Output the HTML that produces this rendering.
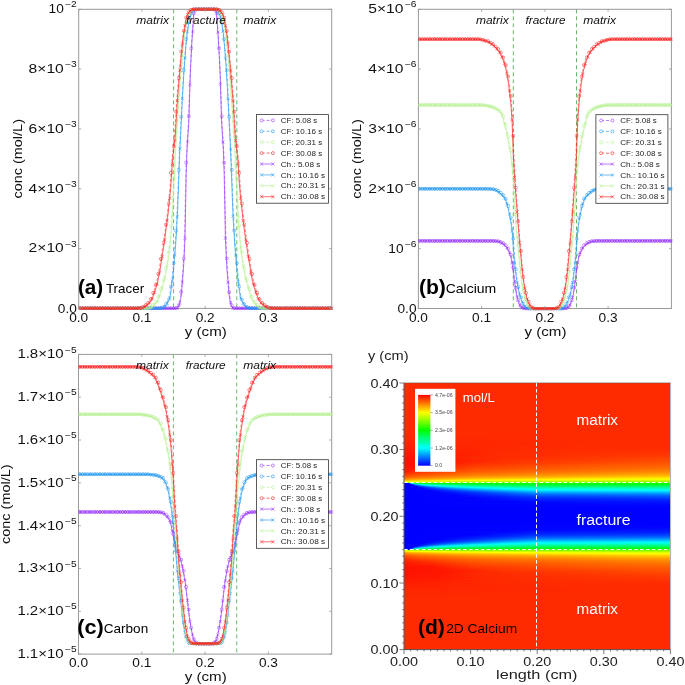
<!DOCTYPE html><html><head><meta charset="utf-8"><title>Figure</title><style>html,body{margin:0;padding:0;background:#fff}svg{display:block;will-change:transform}text{font-family:"Liberation Sans",sans-serif}</style></head><body><svg width="685" height="685" viewBox="0 0 685 685" font-family="Liberation Sans, sans-serif"><defs><linearGradient id="h49"><stop offset="0" stop-color="#ff2a00"/><stop offset="1" stop-color="#ff2b00"/></linearGradient><linearGradient id="h50"><stop offset="0" stop-color="#ff2a00"/><stop offset="1" stop-color="#ff2b00"/></linearGradient><linearGradient id="h51"><stop offset="0" stop-color="#ff2a00"/><stop offset="1" stop-color="#ff2b00"/></linearGradient><linearGradient id="h52"><stop offset="0" stop-color="#ff2a00"/><stop offset="1" stop-color="#ff2b00"/></linearGradient><linearGradient id="h53"><stop offset="0" stop-color="#ff2900"/><stop offset="1" stop-color="#ff2b00"/></linearGradient><linearGradient id="h54"><stop offset="0" stop-color="#ff2900"/><stop offset="1" stop-color="#ff2b00"/></linearGradient><linearGradient id="h55"><stop offset="0" stop-color="#ff2800"/><stop offset="1" stop-color="#ff2b00"/></linearGradient><linearGradient id="h56"><stop offset="0" stop-color="#ff2800"/><stop offset="1" stop-color="#ff2b00"/></linearGradient><linearGradient id="h57"><stop offset="0" stop-color="#ff2700"/><stop offset="1" stop-color="#ff2b00"/></linearGradient><linearGradient id="h58"><stop offset="0" stop-color="#ff2600"/><stop offset="1" stop-color="#ff2b00"/></linearGradient><linearGradient id="h59"><stop offset="0" stop-color="#ff2500"/><stop offset="1" stop-color="#ff2b00"/></linearGradient><linearGradient id="h60"><stop offset="0" stop-color="#ff2400"/><stop offset="1" stop-color="#ff2b00"/></linearGradient><linearGradient id="h61"><stop offset="0" stop-color="#ff2300"/><stop offset=".824" stop-color="#ff2b00"/><stop offset="1" stop-color="#ff2b00"/></linearGradient><linearGradient id="h62"><stop offset="0" stop-color="#f20"/><stop offset=".674" stop-color="#ff2b00"/><stop offset="1" stop-color="#ff2b00"/></linearGradient><linearGradient id="h63"><stop offset="0" stop-color="#ff2100"/><stop offset=".5" stop-color="#ff2b00"/><stop offset="1" stop-color="#ff2b00"/></linearGradient><linearGradient id="h64"><stop offset="0" stop-color="#ff2000"/><stop offset=".5" stop-color="#ff2b00"/><stop offset="1" stop-color="#ff2c00"/></linearGradient><linearGradient id="h65"><stop offset="0" stop-color="#ff1f00"/><stop offset=".5" stop-color="#ff2b00"/><stop offset="1" stop-color="#ff2c00"/></linearGradient><linearGradient id="h66"><stop offset="0" stop-color="#ff1d00"/><stop offset=".5" stop-color="#ff2b00"/><stop offset="1" stop-color="#ff2d00"/></linearGradient><linearGradient id="h67"><stop offset="0" stop-color="#ff1c00"/><stop offset=".375" stop-color="#ff2b00"/><stop offset="1" stop-color="#ff2f00"/></linearGradient><linearGradient id="h68"><stop offset="0" stop-color="#ff1b00"/><stop offset=".135" stop-color="#ff1e00"/><stop offset=".375" stop-color="#ff2b00"/><stop offset="1" stop-color="#ff3100"/></linearGradient><linearGradient id="h69"><stop offset="0" stop-color="#ff1900"/><stop offset=".135" stop-color="#ff1d00"/><stop offset=".375" stop-color="#ff2b00"/><stop offset="1" stop-color="#f30"/></linearGradient><linearGradient id="h70"><stop offset="0" stop-color="#ff1800"/><stop offset=".135" stop-color="#ff1c00"/><stop offset=".375" stop-color="#ff2b00"/><stop offset="1" stop-color="#ff3500"/></linearGradient><linearGradient id="h71"><stop offset="0" stop-color="#ff1700"/><stop offset=".135" stop-color="#ff1b00"/><stop offset=".375" stop-color="#ff2b00"/><stop offset="1" stop-color="#ff3700"/></linearGradient><linearGradient id="h72"><stop offset="0" stop-color="#ff1600"/><stop offset=".135" stop-color="#ff1a00"/><stop offset=".375" stop-color="#ff2b00"/><stop offset="1" stop-color="#ff3a00"/></linearGradient><linearGradient id="h73"><stop offset="0" stop-color="#ff1500"/><stop offset=".135" stop-color="#ff1900"/><stop offset=".262" stop-color="#ff2800"/><stop offset="1" stop-color="#ff3d00"/></linearGradient><linearGradient id="h74"><stop offset="0" stop-color="#ff1400"/><stop offset=".135" stop-color="#ff1800"/><stop offset=".262" stop-color="#ff2800"/><stop offset="1" stop-color="#ff4100"/></linearGradient><linearGradient id="h75"><stop offset="0" stop-color="#ff1300"/><stop offset=".135" stop-color="#ff1800"/><stop offset=".262" stop-color="#ff2800"/><stop offset="1" stop-color="#f40"/></linearGradient><linearGradient id="h76"><stop offset="0" stop-color="#ff1300"/><stop offset=".135" stop-color="#ff1700"/><stop offset=".375" stop-color="#ff2e00"/><stop offset="1" stop-color="#ff4800"/></linearGradient><linearGradient id="h77"><stop offset="0" stop-color="#ff1200"/><stop offset=".135" stop-color="#ff1700"/><stop offset=".375" stop-color="#ff3000"/><stop offset="1" stop-color="#ff4b00"/></linearGradient><linearGradient id="h78"><stop offset="0" stop-color="#ff1200"/><stop offset=".135" stop-color="#ff1700"/><stop offset=".375" stop-color="#f30"/><stop offset="1" stop-color="#ff4f00"/></linearGradient><linearGradient id="h79"><stop offset="0" stop-color="#ff1200"/><stop offset=".135" stop-color="#ff1700"/><stop offset=".375" stop-color="#ff3600"/><stop offset="1" stop-color="#ff5300"/></linearGradient><linearGradient id="h80"><stop offset="0" stop-color="#ff1200"/><stop offset=".135" stop-color="#ff1700"/><stop offset=".262" stop-color="#ff2f00"/><stop offset=".824" stop-color="#ff5100"/><stop offset="1" stop-color="#ff5700"/></linearGradient><linearGradient id="h81"><stop offset="0" stop-color="#ff1300"/><stop offset=".097" stop-color="#ff1300"/><stop offset=".262" stop-color="#f30"/><stop offset=".674" stop-color="#ff5000"/><stop offset="1" stop-color="#ff5c00"/></linearGradient><linearGradient id="h82"><stop offset="0" stop-color="#ff1400"/><stop offset=".097" stop-color="#ff1500"/><stop offset=".262" stop-color="#ff3700"/><stop offset=".674" stop-color="#ff5400"/><stop offset="1" stop-color="#ff6000"/></linearGradient><linearGradient id="h83"><stop offset="0" stop-color="#ff1400"/><stop offset=".097" stop-color="#ff1800"/><stop offset=".262" stop-color="#ff3c00"/><stop offset=".5" stop-color="#ff5100"/><stop offset="1" stop-color="#ff6400"/></linearGradient><linearGradient id="h84"><stop offset="0" stop-color="#ff1500"/><stop offset=".097" stop-color="#ff1d00"/><stop offset=".262" stop-color="#ff4200"/><stop offset=".674" stop-color="#ff5e00"/><stop offset="1" stop-color="#ff6a00"/></linearGradient><linearGradient id="h85"><stop offset="0" stop-color="#ff1600"/><stop offset=".097" stop-color="#ff2300"/><stop offset=".262" stop-color="#ff4800"/><stop offset=".674" stop-color="#ff6300"/><stop offset="1" stop-color="#ff7000"/></linearGradient><linearGradient id="h86"><stop offset="0" stop-color="#ff1800"/><stop offset=".262" stop-color="#ff4e00"/><stop offset=".824" stop-color="#ff7000"/><stop offset="1" stop-color="#f70"/></linearGradient><linearGradient id="h87"><stop offset="0" stop-color="#ff1900"/><stop offset=".262" stop-color="#f50"/><stop offset="1" stop-color="#ff7f00"/></linearGradient><linearGradient id="h88"><stop offset="0" stop-color="#ff1d00"/><stop offset=".187" stop-color="#ff4f00"/><stop offset=".375" stop-color="#f60"/><stop offset="1" stop-color="#f80"/></linearGradient><linearGradient id="h89"><stop offset="0" stop-color="#ff2400"/><stop offset=".067" stop-color="#ff3c00"/><stop offset=".262" stop-color="#ff6300"/><stop offset=".824" stop-color="#ff8900"/><stop offset="1" stop-color="#ff9100"/></linearGradient><linearGradient id="h90"><stop offset="0" stop-color="#ff2d00"/><stop offset=".045" stop-color="#ff4100"/><stop offset=".262" stop-color="#ff6c00"/><stop offset=".824" stop-color="#ff9400"/><stop offset="1" stop-color="#ff9c00"/></linearGradient><linearGradient id="h91"><stop offset="0" stop-color="#ff3800"/><stop offset=".045" stop-color="#ff4c00"/><stop offset=".262" stop-color="#f70"/><stop offset=".824" stop-color="#ffa000"/><stop offset="1" stop-color="#ffa800"/></linearGradient><linearGradient id="h92"><stop offset="0" stop-color="#f40"/><stop offset=".045" stop-color="#ff5700"/><stop offset=".262" stop-color="#ff8400"/><stop offset=".824" stop-color="#ffae00"/><stop offset="1" stop-color="#ffb800"/></linearGradient><linearGradient id="h93"><stop offset="0" stop-color="#ff5100"/><stop offset=".067" stop-color="#ff6b00"/><stop offset=".262" stop-color="#ff9300"/><stop offset=".824" stop-color="#ffc100"/><stop offset="1" stop-color="#ffca00"/></linearGradient><linearGradient id="h94"><stop offset="0" stop-color="#ff6000"/><stop offset=".045" stop-color="#f70"/><stop offset=".262" stop-color="#ffa600"/><stop offset=".674" stop-color="#ffcd00"/><stop offset="1" stop-color="#ffdf00"/></linearGradient><linearGradient id="h95"><stop offset="0" stop-color="#ff7400"/><stop offset=".03" stop-color="#ff8900"/><stop offset=".262" stop-color="#ffbf00"/><stop offset=".674" stop-color="#ffe600"/><stop offset="1" stop-color="#fff600"/></linearGradient><linearGradient id="h96"><stop offset="0" stop-color="#ff9000"/><stop offset=".045" stop-color="#ffac00"/><stop offset=".262" stop-color="#ffdf00"/><stop offset=".5" stop-color="#fff700"/><stop offset=".824" stop-color="#f4ff00"/><stop offset="1" stop-color="#ecff00"/></linearGradient><linearGradient id="h97"><stop offset="0" stop-color="#ffb900"/><stop offset=".019" stop-color="#fc0"/><stop offset=".135" stop-color="#fff000"/><stop offset=".262" stop-color="#f8ff00"/><stop offset=".824" stop-color="#d1ff00"/><stop offset="1" stop-color="#caff00"/></linearGradient><linearGradient id="h98"><stop offset="0" stop-color="#fff800"/><stop offset=".019" stop-color="#f6ff00"/><stop offset=".187" stop-color="#ceff00"/><stop offset=".5" stop-color="#b2ff00"/><stop offset="1" stop-color="#9dff00"/></linearGradient><linearGradient id="h99"><stop offset="0" stop-color="#9bff00"/><stop offset=".045" stop-color="#87ff00"/><stop offset=".262" stop-color="#6cff00"/><stop offset="1" stop-color="#56ff00"/></linearGradient><linearGradient id="h100"><stop offset="0" stop-color="#00f"/><stop offset=".019" stop-color="#00f"/><stop offset=".03" stop-color="#00fff2"/><stop offset=".045" stop-color="#00ff63"/><stop offset=".067" stop-color="#00ff34"/><stop offset=".097" stop-color="#00ff1c"/><stop offset=".187" stop-color="#00ff02"/><stop offset=".5" stop-color="#13ff00"/><stop offset="1" stop-color="#15ff00"/></linearGradient><linearGradient id="h101"><stop offset="0" stop-color="#00f"/><stop offset=".019" stop-color="#00f"/><stop offset=".03" stop-color="#000eff"/><stop offset=".045" stop-color="#00bdff"/><stop offset=".067" stop-color="#00ffd7"/><stop offset=".097" stop-color="#00ff9b"/><stop offset=".135" stop-color="#00ff76"/><stop offset=".187" stop-color="#00ff58"/><stop offset=".262" stop-color="#00ff40"/><stop offset=".5" stop-color="#00ff1f"/><stop offset="1" stop-color="#00ff19"/></linearGradient><linearGradient id="h102"><stop offset="0" stop-color="#00f"/><stop offset=".03" stop-color="#00f"/><stop offset=".045" stop-color="#0034ff"/><stop offset=".067" stop-color="#00a3ff"/><stop offset=".097" stop-color="#00f4ff"/><stop offset=".135" stop-color="#00ffd3"/><stop offset=".187" stop-color="#00ffa7"/><stop offset=".262" stop-color="#00ff82"/><stop offset=".375" stop-color="#00ff63"/><stop offset=".5" stop-color="#00ff4e"/><stop offset="1" stop-color="#00ff45"/></linearGradient><linearGradient id="h103"><stop offset="0" stop-color="#00f"/><stop offset=".045" stop-color="#0007ff"/><stop offset=".097" stop-color="#0097ff"/><stop offset=".135" stop-color="#00d8ff"/><stop offset=".187" stop-color="#00ffef"/><stop offset=".262" stop-color="#00ffc0"/><stop offset=".375" stop-color="#00ff96"/><stop offset=".5" stop-color="#00ff7b"/><stop offset="1" stop-color="#00ff6f"/></linearGradient><linearGradient id="h104"><stop offset="0" stop-color="#00f"/><stop offset=".045" stop-color="#00f"/><stop offset=".067" stop-color="#0019ff"/><stop offset=".135" stop-color="#0091ff"/><stop offset=".187" stop-color="#00cfff"/><stop offset=".262" stop-color="#00fff9"/><stop offset=".375" stop-color="#00ffc7"/><stop offset=".5" stop-color="#00ffa5"/><stop offset="1" stop-color="#00ff97"/></linearGradient><linearGradient id="h105"><stop offset="0" stop-color="#00f"/><stop offset=".067" stop-color="#0005ff"/><stop offset=".187" stop-color="#0095ff"/><stop offset=".262" stop-color="#00d2ff"/><stop offset=".375" stop-color="#00fff6"/><stop offset=".5" stop-color="#00ffce"/><stop offset="1" stop-color="#00ffbe"/></linearGradient><linearGradient id="h106"><stop offset="0" stop-color="#00f"/><stop offset=".067" stop-color="#00f"/><stop offset=".097" stop-color="#01f"/><stop offset=".262" stop-color="#00a2ff"/><stop offset=".375" stop-color="#00deff"/><stop offset=".5" stop-color="#00fff5"/><stop offset="1" stop-color="#00ffe3"/></linearGradient><linearGradient id="h107"><stop offset="0" stop-color="#00f"/><stop offset=".097" stop-color="#0004ff"/><stop offset=".262" stop-color="#07f"/><stop offset=".375" stop-color="#00b7ff"/><stop offset=".5" stop-color="#00e5ff"/><stop offset="1" stop-color="#00f9ff"/></linearGradient><linearGradient id="h108"><stop offset="0" stop-color="#00f"/><stop offset=".097" stop-color="#00f"/><stop offset=".187" stop-color="#0028ff"/><stop offset=".375" stop-color="#0092ff"/><stop offset=".5" stop-color="#00c3ff"/><stop offset="1" stop-color="#00d8ff"/></linearGradient><linearGradient id="h109"><stop offset="0" stop-color="#00f"/><stop offset=".135" stop-color="#0003ff"/><stop offset=".5" stop-color="#00a3ff"/><stop offset="1" stop-color="#00baff"/></linearGradient><linearGradient id="h110"><stop offset="0" stop-color="#00f"/><stop offset=".135" stop-color="#00f"/><stop offset=".262" stop-color="#0027ff"/><stop offset=".5" stop-color="#0085ff"/><stop offset="1" stop-color="#009cff"/></linearGradient><linearGradient id="h111"><stop offset="0" stop-color="#00f"/><stop offset=".187" stop-color="#0005ff"/><stop offset=".5" stop-color="#006bff"/><stop offset="1" stop-color="#0081ff"/></linearGradient><linearGradient id="h112"><stop offset="0" stop-color="#00f"/><stop offset=".187" stop-color="#0001ff"/><stop offset=".5" stop-color="#0056ff"/><stop offset="1" stop-color="#0069ff"/></linearGradient><linearGradient id="h113"><stop offset="0" stop-color="#00f"/><stop offset=".187" stop-color="#00f"/><stop offset=".375" stop-color="#02f"/><stop offset=".5" stop-color="#0043ff"/><stop offset="1" stop-color="#0056ff"/></linearGradient><linearGradient id="h114"><stop offset="0" stop-color="#00f"/><stop offset=".262" stop-color="#0004ff"/><stop offset=".5" stop-color="#03f"/><stop offset="1" stop-color="#0045ff"/></linearGradient><linearGradient id="h115"><stop offset="0" stop-color="#00f"/><stop offset=".262" stop-color="#0001ff"/><stop offset=".5" stop-color="#0026ff"/><stop offset="1" stop-color="#0035ff"/></linearGradient><linearGradient id="h116"><stop offset="0" stop-color="#00f"/><stop offset=".262" stop-color="#00f"/><stop offset=".5" stop-color="#001dff"/><stop offset="1" stop-color="#0029ff"/></linearGradient><linearGradient id="h117"><stop offset="0" stop-color="#00f"/><stop offset=".375" stop-color="#0005ff"/><stop offset=".5" stop-color="#0016ff"/><stop offset="1" stop-color="#0020ff"/></linearGradient><linearGradient id="h118"><stop offset="0" stop-color="#00f"/><stop offset=".375" stop-color="#0002ff"/><stop offset=".5" stop-color="#0010ff"/><stop offset="1" stop-color="#0019ff"/></linearGradient><linearGradient id="h119"><stop offset="0" stop-color="#00f"/><stop offset=".375" stop-color="#0001ff"/><stop offset=".674" stop-color="#000dff"/><stop offset="1" stop-color="#0012ff"/></linearGradient><linearGradient id="h120"><stop offset="0" stop-color="#00f"/><stop offset="1" stop-color="#000dff"/></linearGradient><linearGradient id="h121"><stop offset="0" stop-color="#00f"/><stop offset="1" stop-color="#0008ff"/></linearGradient><linearGradient id="h122"><stop offset="0" stop-color="#00f"/><stop offset="1" stop-color="#0005ff"/></linearGradient><linearGradient id="h123"><stop offset="0" stop-color="#00f"/><stop offset="1" stop-color="#0002ff"/></linearGradient><linearGradient id="h124"><stop offset="0" stop-color="#00f"/><stop offset="1" stop-color="#0001ff"/></linearGradient><linearGradient id="h141"><stop offset="0" stop-color="#00f"/><stop offset="1" stop-color="#0001ff"/></linearGradient><linearGradient id="h142"><stop offset="0" stop-color="#00f"/><stop offset="1" stop-color="#0002ff"/></linearGradient><linearGradient id="h143"><stop offset="0" stop-color="#00f"/><stop offset="1" stop-color="#0003ff"/></linearGradient><linearGradient id="h144"><stop offset="0" stop-color="#00f"/><stop offset="1" stop-color="#0006ff"/></linearGradient><linearGradient id="h145"><stop offset="0" stop-color="#00f"/><stop offset="1" stop-color="#000aff"/></linearGradient><linearGradient id="h146"><stop offset="0" stop-color="#00f"/><stop offset=".375" stop-color="#00f"/><stop offset="1" stop-color="#000fff"/></linearGradient><linearGradient id="h147"><stop offset="0" stop-color="#00f"/><stop offset=".375" stop-color="#0001ff"/><stop offset=".5" stop-color="#000cff"/><stop offset="1" stop-color="#0015ff"/></linearGradient><linearGradient id="h148"><stop offset="0" stop-color="#00f"/><stop offset=".375" stop-color="#0003ff"/><stop offset=".5" stop-color="#0012ff"/><stop offset="1" stop-color="#001bff"/></linearGradient><linearGradient id="h149"><stop offset="0" stop-color="#00f"/><stop offset=".375" stop-color="#0007ff"/><stop offset=".5" stop-color="#0019ff"/><stop offset="1" stop-color="#0023ff"/></linearGradient><linearGradient id="h150"><stop offset="0" stop-color="#00f"/><stop offset=".262" stop-color="#00f"/><stop offset=".5" stop-color="#0021ff"/><stop offset="1" stop-color="#002dff"/></linearGradient><linearGradient id="h151"><stop offset="0" stop-color="#00f"/><stop offset=".262" stop-color="#0002ff"/><stop offset=".5" stop-color="#002bff"/><stop offset="1" stop-color="#003bff"/></linearGradient><linearGradient id="h152"><stop offset="0" stop-color="#00f"/><stop offset=".262" stop-color="#0005ff"/><stop offset=".5" stop-color="#0039ff"/><stop offset="1" stop-color="#004bff"/></linearGradient><linearGradient id="h153"><stop offset="0" stop-color="#00f"/><stop offset=".187" stop-color="#00f"/><stop offset=".375" stop-color="#0026ff"/><stop offset=".5" stop-color="#004aff"/><stop offset="1" stop-color="#005dff"/></linearGradient><linearGradient id="h154"><stop offset="0" stop-color="#00f"/><stop offset=".187" stop-color="#0002ff"/><stop offset=".5" stop-color="#005eff"/><stop offset="1" stop-color="#0072ff"/></linearGradient><linearGradient id="h155"><stop offset="0" stop-color="#00f"/><stop offset=".135" stop-color="#00f"/><stop offset=".262" stop-color="#001fff"/><stop offset=".5" stop-color="#0075ff"/><stop offset="1" stop-color="#008cff"/></linearGradient><linearGradient id="h156"><stop offset="0" stop-color="#00f"/><stop offset=".135" stop-color="#0001ff"/><stop offset=".5" stop-color="#0091ff"/><stop offset="1" stop-color="#00a8ff"/></linearGradient><linearGradient id="h157"><stop offset="0" stop-color="#00f"/><stop offset=".135" stop-color="#0006ff"/><stop offset=".375" stop-color="#007dff"/><stop offset=".5" stop-color="#00b0ff"/><stop offset="1" stop-color="#00c6ff"/></linearGradient><linearGradient id="h158"><stop offset="0" stop-color="#00f"/><stop offset=".097" stop-color="#0001ff"/><stop offset=".375" stop-color="#00a0ff"/><stop offset=".5" stop-color="#00d1ff"/><stop offset="1" stop-color="#00e5ff"/></linearGradient><linearGradient id="h159"><stop offset="0" stop-color="#00f"/><stop offset=".067" stop-color="#00f"/><stop offset=".097" stop-color="#0008ff"/><stop offset=".262" stop-color="#08f"/><stop offset=".375" stop-color="#00c6ff"/><stop offset=".5" stop-color="#00f3ff"/><stop offset="1" stop-color="#00fff8"/></linearGradient><linearGradient id="h160"><stop offset="0" stop-color="#00f"/><stop offset=".067" stop-color="#0001ff"/><stop offset=".135" stop-color="#0040ff"/><stop offset=".187" stop-color="#07f"/><stop offset=".262" stop-color="#00b5ff"/><stop offset=".375" stop-color="#0ef"/><stop offset=".5" stop-color="#00ffe6"/><stop offset="1" stop-color="#00ffd4"/></linearGradient><linearGradient id="h161"><stop offset="0" stop-color="#00f"/><stop offset=".045" stop-color="#00f"/><stop offset=".067" stop-color="#000bff"/><stop offset=".135" stop-color="#006cff"/><stop offset=".187" stop-color="#00acff"/><stop offset=".262" stop-color="#00e5ff"/><stop offset=".375" stop-color="#00ffe3"/><stop offset=".5" stop-color="#00ffbe"/><stop offset="1" stop-color="#00ffae"/></linearGradient><linearGradient id="h162"><stop offset="0" stop-color="#00f"/><stop offset=".045" stop-color="#00f"/><stop offset=".067" stop-color="#0026ff"/><stop offset=".097" stop-color="#0069ff"/><stop offset=".135" stop-color="#00adff"/><stop offset=".187" stop-color="#00e7ff"/><stop offset=".262" stop-color="#00ffe3"/><stop offset=".375" stop-color="#00ffb4"/><stop offset=".5" stop-color="#00ff94"/><stop offset="1" stop-color="#00ff87"/></linearGradient><linearGradient id="h163"><stop offset="0" stop-color="#00f"/><stop offset=".03" stop-color="#00f"/><stop offset=".045" stop-color="#0014ff"/><stop offset=".067" stop-color="#0064ff"/><stop offset=".097" stop-color="#0bf"/><stop offset=".135" stop-color="#00f8ff"/><stop offset=".187" stop-color="#00ffd3"/><stop offset=".262" stop-color="#00ffa7"/><stop offset=".375" stop-color="#00ff82"/><stop offset=".5" stop-color="#00ff69"/><stop offset="1" stop-color="#00ff5f"/></linearGradient><linearGradient id="h164"><stop offset="0" stop-color="#00f"/><stop offset=".03" stop-color="#00f"/><stop offset=".045" stop-color="#005dff"/><stop offset=".067" stop-color="#00d4ff"/><stop offset=".097" stop-color="#00ffe0"/><stop offset=".135" stop-color="#00ffaf"/><stop offset=".187" stop-color="#0f8"/><stop offset=".262" stop-color="#00ff68"/><stop offset=".375" stop-color="#00ff4d"/><stop offset=".5" stop-color="#00ff3b"/><stop offset="1" stop-color="#00ff34"/></linearGradient><linearGradient id="h165"><stop offset="0" stop-color="#00f"/><stop offset=".019" stop-color="#00f"/><stop offset=".03" stop-color="#003eff"/><stop offset=".045" stop-color="#00fff2"/><stop offset=".067" stop-color="#00ff9a"/><stop offset=".097" stop-color="#00ff6b"/><stop offset=".135" stop-color="#00ff4d"/><stop offset=".187" stop-color="#00ff37"/><stop offset=".262" stop-color="#00ff24"/><stop offset=".5" stop-color="#00ff0b"/><stop offset="1" stop-color="#00ff07"/></linearGradient><linearGradient id="h166"><stop offset="0" stop-color="#00f"/><stop offset=".019" stop-color="#00f"/><stop offset=".03" stop-color="#00ff1f"/><stop offset=".045" stop-color="#09ff00"/><stop offset=".097" stop-color="#1cff00"/><stop offset=".674" stop-color="#27ff00"/><stop offset="1" stop-color="#28ff00"/></linearGradient><linearGradient id="h167"><stop offset="0" stop-color="#d0ff00"/><stop offset=".03" stop-color="#bdff00"/><stop offset=".262" stop-color="#97ff00"/><stop offset=".824" stop-color="#7aff00"/><stop offset="1" stop-color="#75ff00"/></linearGradient><linearGradient id="h168"><stop offset="0" stop-color="#ffdc00"/><stop offset=".019" stop-color="#fe0"/><stop offset=".067" stop-color="#ff0"/><stop offset=".262" stop-color="#dbff00"/><stop offset=".824" stop-color="#b7ff00"/><stop offset="1" stop-color="#b1ff00"/></linearGradient><linearGradient id="h169"><stop offset="0" stop-color="#ffa500"/><stop offset=".019" stop-color="#ffb900"/><stop offset=".135" stop-color="#ffde00"/><stop offset=".262" stop-color="#fff500"/><stop offset=".375" stop-color="#fdff00"/><stop offset="1" stop-color="#d9ff00"/></linearGradient><linearGradient id="h170"><stop offset="0" stop-color="#ff8400"/><stop offset=".03" stop-color="#ff9800"/><stop offset=".187" stop-color="#ffc400"/><stop offset=".5" stop-color="#ffeb00"/><stop offset=".824" stop-color="#fffe00"/><stop offset="1" stop-color="#f8ff00"/></linearGradient><linearGradient id="h171"><stop offset="0" stop-color="#ff6b00"/><stop offset=".03" stop-color="#ff7f00"/><stop offset=".262" stop-color="#ffb400"/><stop offset=".674" stop-color="#ffdb00"/><stop offset="1" stop-color="#ffed00"/></linearGradient><linearGradient id="h172"><stop offset="0" stop-color="#ff5900"/><stop offset=".045" stop-color="#ff6f00"/><stop offset=".262" stop-color="#ff9e00"/><stop offset=".824" stop-color="#ffcd00"/><stop offset="1" stop-color="#ffd600"/></linearGradient><linearGradient id="h173"><stop offset="0" stop-color="#ff4c00"/><stop offset=".067" stop-color="#ff6500"/><stop offset=".262" stop-color="#ff8d00"/><stop offset=".824" stop-color="#ffb900"/><stop offset="1" stop-color="#ffc200"/></linearGradient><linearGradient id="h174"><stop offset="0" stop-color="#ff3f00"/><stop offset=".045" stop-color="#ff5200"/><stop offset=".262" stop-color="#ff7f00"/><stop offset=".824" stop-color="#ffa800"/><stop offset="1" stop-color="#ffb100"/></linearGradient><linearGradient id="h175"><stop offset="0" stop-color="#f30"/><stop offset=".045" stop-color="#ff4700"/><stop offset=".262" stop-color="#ff7200"/><stop offset=".824" stop-color="#ff9b00"/><stop offset="1" stop-color="#ffa300"/></linearGradient><linearGradient id="h176"><stop offset="0" stop-color="#ff2900"/><stop offset=".045" stop-color="#ff3d00"/><stop offset=".262" stop-color="#ff6800"/><stop offset=".824" stop-color="#ff9000"/><stop offset="1" stop-color="#ff9700"/></linearGradient><linearGradient id="h177"><stop offset="0" stop-color="#ff2100"/><stop offset=".067" stop-color="#ff3800"/><stop offset=".262" stop-color="#ff6000"/><stop offset="1" stop-color="#ff8d00"/></linearGradient><linearGradient id="h178"><stop offset="0" stop-color="#ff1b00"/><stop offset=".187" stop-color="#ff4c00"/><stop offset=".375" stop-color="#ff6300"/><stop offset="1" stop-color="#ff8400"/></linearGradient><linearGradient id="h179"><stop offset="0" stop-color="#ff1800"/><stop offset=".262" stop-color="#ff5200"/><stop offset="1" stop-color="#ff7c00"/></linearGradient><linearGradient id="h180"><stop offset="0" stop-color="#ff1700"/><stop offset=".135" stop-color="#ff3000"/><stop offset=".262" stop-color="#ff4c00"/><stop offset=".824" stop-color="#ff6d00"/><stop offset="1" stop-color="#ff7400"/></linearGradient><linearGradient id="h181"><stop offset="0" stop-color="#ff1600"/><stop offset=".097" stop-color="#ff2000"/><stop offset=".262" stop-color="#ff4500"/><stop offset=".674" stop-color="#ff6100"/><stop offset="1" stop-color="#ff6d00"/></linearGradient><linearGradient id="h182"><stop offset="0" stop-color="#ff1500"/><stop offset=".097" stop-color="#ff1b00"/><stop offset=".262" stop-color="#ff4000"/><stop offset=".674" stop-color="#ff5c00"/><stop offset="1" stop-color="#ff6800"/></linearGradient><linearGradient id="h183"><stop offset="0" stop-color="#ff1400"/><stop offset=".097" stop-color="#ff1600"/><stop offset=".262" stop-color="#ff3a00"/><stop offset=".674" stop-color="#ff5700"/><stop offset="1" stop-color="#ff6300"/></linearGradient><linearGradient id="h184"><stop offset="0" stop-color="#ff1300"/><stop offset=".097" stop-color="#ff1400"/><stop offset=".262" stop-color="#ff3600"/><stop offset=".674" stop-color="#ff5200"/><stop offset="1" stop-color="#ff5e00"/></linearGradient><linearGradient id="h185"><stop offset="0" stop-color="#ff1300"/><stop offset=".097" stop-color="#ff1200"/><stop offset=".262" stop-color="#ff3100"/><stop offset=".674" stop-color="#ff4e00"/><stop offset="1" stop-color="#ff5a00"/></linearGradient><linearGradient id="h186"><stop offset="0" stop-color="#ff1200"/><stop offset=".135" stop-color="#ff1700"/><stop offset=".375" stop-color="#ff3900"/><stop offset="1" stop-color="#ff5600"/></linearGradient><linearGradient id="h187"><stop offset="0" stop-color="#ff1200"/><stop offset=".135" stop-color="#ff1700"/><stop offset=".375" stop-color="#ff3500"/><stop offset="1" stop-color="#ff5200"/></linearGradient><linearGradient id="h188"><stop offset="0" stop-color="#ff1200"/><stop offset=".135" stop-color="#ff1700"/><stop offset=".375" stop-color="#ff3200"/><stop offset="1" stop-color="#ff4e00"/></linearGradient><linearGradient id="h189"><stop offset="0" stop-color="#ff1200"/><stop offset=".135" stop-color="#ff1700"/><stop offset=".375" stop-color="#ff2f00"/><stop offset="1" stop-color="#ff4a00"/></linearGradient><linearGradient id="h190"><stop offset="0" stop-color="#ff1300"/><stop offset=".135" stop-color="#ff1700"/><stop offset=".262" stop-color="#ff2800"/><stop offset="1" stop-color="#ff4600"/></linearGradient><linearGradient id="h191"><stop offset="0" stop-color="#ff1300"/><stop offset=".135" stop-color="#ff1800"/><stop offset=".262" stop-color="#ff2800"/><stop offset="1" stop-color="#ff4300"/></linearGradient><linearGradient id="h192"><stop offset="0" stop-color="#ff1400"/><stop offset=".135" stop-color="#ff1900"/><stop offset=".262" stop-color="#ff2800"/><stop offset="1" stop-color="#ff3f00"/></linearGradient><linearGradient id="h193"><stop offset="0" stop-color="#ff1500"/><stop offset=".135" stop-color="#ff1900"/><stop offset=".262" stop-color="#ff2800"/><stop offset="1" stop-color="#ff3c00"/></linearGradient><linearGradient id="h194"><stop offset="0" stop-color="#ff1600"/><stop offset=".135" stop-color="#ff1a00"/><stop offset=".375" stop-color="#ff2b00"/><stop offset="1" stop-color="#ff3900"/></linearGradient><linearGradient id="h195"><stop offset="0" stop-color="#ff1700"/><stop offset=".135" stop-color="#ff1b00"/><stop offset=".375" stop-color="#ff2b00"/><stop offset="1" stop-color="#ff3600"/></linearGradient><linearGradient id="h196"><stop offset="0" stop-color="#ff1800"/><stop offset=".135" stop-color="#ff1c00"/><stop offset=".262" stop-color="#ff2900"/><stop offset="1" stop-color="#ff3400"/></linearGradient><linearGradient id="h197"><stop offset="0" stop-color="#ff1a00"/><stop offset=".135" stop-color="#ff1d00"/><stop offset=".375" stop-color="#ff2b00"/><stop offset="1" stop-color="#ff3200"/></linearGradient><linearGradient id="h198"><stop offset="0" stop-color="#ff1b00"/><stop offset=".375" stop-color="#ff2b00"/><stop offset="1" stop-color="#ff3000"/></linearGradient><linearGradient id="h199"><stop offset="0" stop-color="#ff1c00"/><stop offset=".375" stop-color="#ff2b00"/><stop offset="1" stop-color="#ff2e00"/></linearGradient><linearGradient id="h200"><stop offset="0" stop-color="#ff1e00"/><stop offset=".5" stop-color="#ff2b00"/><stop offset="1" stop-color="#ff2d00"/></linearGradient><linearGradient id="h201"><stop offset="0" stop-color="#ff1f00"/><stop offset=".5" stop-color="#ff2b00"/><stop offset="1" stop-color="#ff2c00"/></linearGradient><linearGradient id="h202"><stop offset="0" stop-color="#ff2000"/><stop offset=".5" stop-color="#ff2b00"/><stop offset="1" stop-color="#ff2c00"/></linearGradient><linearGradient id="h203"><stop offset="0" stop-color="#f20"/><stop offset=".674" stop-color="#ff2b00"/><stop offset="1" stop-color="#ff2b00"/></linearGradient><linearGradient id="h204"><stop offset="0" stop-color="#ff2300"/><stop offset=".824" stop-color="#ff2b00"/><stop offset="1" stop-color="#ff2b00"/></linearGradient><linearGradient id="h205"><stop offset="0" stop-color="#ff2400"/><stop offset="1" stop-color="#ff2b00"/></linearGradient><linearGradient id="h206"><stop offset="0" stop-color="#ff2500"/><stop offset="1" stop-color="#ff2b00"/></linearGradient><linearGradient id="h207"><stop offset="0" stop-color="#ff2600"/><stop offset="1" stop-color="#ff2b00"/></linearGradient><linearGradient id="h208"><stop offset="0" stop-color="#ff2700"/><stop offset="1" stop-color="#ff2b00"/></linearGradient><linearGradient id="h209"><stop offset="0" stop-color="#ff2700"/><stop offset="1" stop-color="#ff2b00"/></linearGradient><linearGradient id="h210"><stop offset="0" stop-color="#ff2800"/><stop offset="1" stop-color="#ff2b00"/></linearGradient><linearGradient id="h211"><stop offset="0" stop-color="#ff2900"/><stop offset="1" stop-color="#ff2b00"/></linearGradient><linearGradient id="h212"><stop offset="0" stop-color="#ff2900"/><stop offset="1" stop-color="#ff2b00"/></linearGradient><linearGradient id="h213"><stop offset="0" stop-color="#ff2900"/><stop offset="1" stop-color="#ff2b00"/></linearGradient><linearGradient id="h214"><stop offset="0" stop-color="#ff2a00"/><stop offset="1" stop-color="#ff2b00"/></linearGradient><linearGradient id="h215"><stop offset="0" stop-color="#ff2a00"/><stop offset="1" stop-color="#ff2b00"/></linearGradient><linearGradient id="h216"><stop offset="0" stop-color="#ff2a00"/><stop offset="1" stop-color="#ff2b00"/></linearGradient><linearGradient id="h217"><stop offset="0" stop-color="#ff2b00"/><stop offset="1" stop-color="#ff2b00"/></linearGradient></defs><rect width="685" height="685" fill="#fff"/><marker id="mxp" markerWidth="4" markerHeight="4" refX="2" refY="2" markerUnits="userSpaceOnUse"><path d="M.4,.4l3.2,3.2M.4,3.6l3.2,-3.2" stroke="#9933ff" stroke-width=".5" fill="none"/></marker>
<marker id="mop" markerWidth="4" markerHeight="4" refX="2" refY="2" markerUnits="userSpaceOnUse"><circle cx="2" cy="2" r="1.6" stroke="#9933ff" stroke-width=".5" fill="none"/></marker>
<marker id="mxb" markerWidth="4" markerHeight="4" refX="2" refY="2" markerUnits="userSpaceOnUse"><path d="M.4,.4l3.2,3.2M.4,3.6l3.2,-3.2" stroke="#2299f2" stroke-width=".5" fill="none"/></marker>
<marker id="mob" markerWidth="4" markerHeight="4" refX="2" refY="2" markerUnits="userSpaceOnUse"><circle cx="2" cy="2" r="1.6" stroke="#2299f2" stroke-width=".5" fill="none"/></marker>
<marker id="mxg" markerWidth="4" markerHeight="4" refX="2" refY="2" markerUnits="userSpaceOnUse"><path d="M.4,.4l3.2,3.2M.4,3.6l3.2,-3.2" stroke="#b5f08e" stroke-width=".5" fill="none"/></marker>
<marker id="mog" markerWidth="4" markerHeight="4" refX="2" refY="2" markerUnits="userSpaceOnUse"><circle cx="2" cy="2" r="1.6" stroke="#b5f08e" stroke-width=".5" fill="none"/></marker>
<marker id="mxr" markerWidth="4" markerHeight="4" refX="2" refY="2" markerUnits="userSpaceOnUse"><path d="M.4,.4l3.2,3.2M.4,3.6l3.2,-3.2" stroke="#ff1e1e" stroke-width=".5" fill="none"/></marker>
<marker id="mor" markerWidth="4" markerHeight="4" refX="2" refY="2" markerUnits="userSpaceOnUse"><circle cx="2" cy="2" r="1.6" stroke="#ff1e1e" stroke-width=".5" fill="none"/></marker>
<g>
<line x1="173.6" x2="173.6" y1="9.3" y2="308.4" stroke="#6db56d" stroke-width="1" stroke-dasharray="4,3"/>
<line x1="236.8" x2="236.8" y1="9.3" y2="308.4" stroke="#6db56d" stroke-width="1" stroke-dasharray="4,3"/>
<rect x="78.7" y="9.3" width="253.0" height="299.09999999999997" fill="none" stroke="#999" stroke-width="1"/>
<clipPath id="clipa"><rect x="78.7" y="7.300000000000001" width="255.0" height="303.09999999999997"/></clipPath>
<g clip-path="url(#clipa)" fill="none">
<path d="M78.7,308.4L174.2,308.4L177.7,308L178.3,307.3L179,305.8L179.9,302.6L180.8,298.4L181.5,293.3L183.4,269.8L184.3,253.8L185,238.3L186.2,174.5L186.9,154.2L187.5,141.9L188.8,123.2L190.3,74.3L191.9,41.8L193.8,14.8L194.1,12.6L194.8,11L195.7,9.6L196.3,9.3L214.4,9.4L215,9.9L216,11.7L216.3,12.6L216.6,14.8L218.2,36.7L219.1,53.2L220.1,74.3L221.6,123.2L222.9,141.9L223.5,154.2L224.2,174.5L225.4,238.3L226.1,253.8L227,269.8L228.9,293.3L229.9,300L230.8,303.8L231.8,306.6L232.7,308L236.5,308.4L331.7,308.4" stroke="#9933ff" stroke-width="0.7"/>
<path d="M78.7,308.4L173.6,308.4L177.1,308.1L177.7,307.5L178.3,306.2L179.3,303.2L180.2,299.4L180.8,295.1L182.7,273L184,252.4L184.6,236.4L185.9,173.3L186.5,153.7L188.4,123.4L190,75.5L191.6,43L193.2,19.6L193.8,13.2L194.1,12L195.1,10.1L195.7,9.4L196.3,9.3L214.4,9.3L215,9.7L215.6,10.7L216.6,13.2L217.5,24L219.4,54.3L220.4,75.5L222,123.4L223.9,153.7L224.5,173.3L225.8,236.4L226.7,258.5L227.7,273L229.6,295.1L230.5,300.8L231.4,304.3L232.4,306.9L233.3,308.1L237.1,308.4L331.7,308.4" stroke="#9933ff" stroke-width="0.6" stroke-dasharray="3,2" opacity="0.9"/>
<polyline points="78.7,308.4 81.2,308.4 83.8,308.4 86.3,308.4 88.8,308.4 91.4,308.4 93.9,308.4 96.4,308.4 98.9,308.4 101.5,308.4 104,308.4 106.5,308.4 109.1,308.4 111.6,308.4 114.1,308.4 116.7,308.4 119.2,308.4 121.7,308.4 124.2,308.4 126.8,308.4 129.3,308.4 131.8,308.4 134.4,308.4 136.9,308.4 139.4,308.4 141.9,308.4 144.5,308.4 147,308.4 149.5,308.4 152.1,308.4 154.6,308.4 157.1,308.4 159.7,308.4 162.2,308.4 164.7,308.4 167.2,308.4 169.8,308.4 172.3,308.4 174.8,308.4 177.4,308.1 179.9,302.6 182.4,282.2 185,238.3 187.5,141.9 190,84.2 192.6,32 195.1,10.4 197.6,9.3 200.1,9.3 202.7,9.3 205.2,9.3 207.7,9.3 210.3,9.3 212.8,9.3 215.3,10.4 217.9,32 220.4,84.2 222.9,141.9 225.4,238.3 228,282.2 230.5,302.6 233,308.1 235.6,308.4 238.1,308.4 240.6,308.4 243.1,308.4 245.7,308.4 248.2,308.4 250.7,308.4 253.3,308.4 255.8,308.4 258.3,308.4 260.9,308.4 263.4,308.4 265.9,308.4 268.4,308.4 271,308.4 273.5,308.4 276,308.4 278.6,308.4 281.1,308.4 283.6,308.4 286.2,308.4 288.7,308.4 291.2,308.4 293.8,308.4 296.3,308.4 298.8,308.4 301.3,308.4 303.9,308.4 306.4,308.4 308.9,308.4 311.5,308.4 314,308.4 316.5,308.4 319.1,308.4 321.6,308.4 324.1,308.4 326.6,308.4 329.2,308.4 331.7,308.4" stroke="none" marker-start="url(#mxp)" marker-mid="url(#mxp)" marker-end="url(#mxp)"/>
<polyline points="80,308.4 82.5,308.4 85,308.4 87.6,308.4 90.1,308.4 92.6,308.4 95.1,308.4 97.7,308.4 100.2,308.4 102.7,308.4 105.3,308.4 107.8,308.4 110.3,308.4 112.9,308.4 115.4,308.4 117.9,308.4 120.4,308.4 123,308.4 125.5,308.4 128,308.4 130.6,308.4 133.1,308.4 135.6,308.4 138.2,308.4 140.7,308.4 143.2,308.4 145.7,308.4 148.3,308.4 150.8,308.4 153.3,308.4 155.9,308.4 158.4,308.4 160.9,308.4 163.5,308.4 166,308.4 168.5,308.4 171,308.4 173.6,308.4 176.1,308.2 178.6,305.3 181.2,292.1 183.7,258.5 186.2,162.6 188.8,116.3 191.3,48.4 193.8,13.2 196.3,9.3 198.9,9.3 201.4,9.3 203.9,9.3 206.5,9.3 209,9.3 211.5,9.3 214.1,9.3 216.6,13.2 219.1,48.4 221.6,116.3 224.2,162.6 226.7,258.5 229.2,292.1 231.8,305.3 234.3,308.2 236.8,308.4 239.4,308.4 241.9,308.4 244.4,308.4 246.9,308.4 249.5,308.4 252,308.4 254.5,308.4 257.1,308.4 259.6,308.4 262.1,308.4 264.7,308.4 267.2,308.4 269.7,308.4 272.2,308.4 274.8,308.4 277.3,308.4 279.8,308.4 282.4,308.4 284.9,308.4 287.4,308.4 290,308.4 292.5,308.4 295,308.4 297.5,308.4 300.1,308.4 302.6,308.4 305.1,308.4 307.7,308.4 310.2,308.4 312.7,308.4 315.3,308.4 317.8,308.4 320.3,308.4 322.8,308.4 325.4,308.4 327.9,308.4 330.4,308.4" stroke="none" marker-start="url(#mop)" marker-mid="url(#mop)" marker-end="url(#mop)"/>
<path d="M78.7,308.4L157.8,308.4L161.2,308.2L162.5,308L163.5,307.6L165.4,306L167.2,303.3L169.5,298.9L170.1,296.6L170.7,293L172.9,275.7L175.2,251.3L176.4,233.9L177.7,208.7L179.9,149.1L180.8,132.8L182.4,98.5L184,71.4L185.9,46.3L187.5,31.3L188.8,23L189.7,18.1L190.7,15L192.2,11.4L193.5,9.6L194.4,9.3L216.6,9.4L217.2,9.9L218.2,11.4L220.1,15.8L221,19.6L222,24.9L223.2,33.6L224.5,46.3L226.1,66.7L227.3,87L230.5,149.1L233,216.3L234.6,243.1L236.5,265.9L238.1,281.4L240,295L240.6,297.9L241.6,300.3L243.8,304.3L245.7,306.7L247.6,307.9L249.8,308.3L252.6,308.4L331.7,308.4" stroke="#2299f2" stroke-width="0.7"/>
<path d="M78.7,308.4L156.8,308.4L160.6,308.2L161.9,308L162.8,307.6L164.7,305.9L166.6,303.2L168.8,298.8L169.5,296.6L170.1,293L172.3,276.1L174.2,255.9L175.8,235.5L177.1,211.8L179.3,152.7L180.5,130.2L182.1,96.6L183.7,70.3L185.6,45.9L186.9,33.5L188.1,24.9L189.4,18.3L190.3,15.1L191.9,11.5L193.2,9.7L194.1,9.3L216.3,9.3L216.9,9.5L217.5,10L218.5,11.5L220.4,16L221.3,19.7L222.3,24.9L223.5,33.5L224.8,45.9L226.4,65.8L227.7,85.5L231.1,152.7L233.3,211.8L234.9,240.1L236.8,263.1L238.4,279L240.6,294.9L241.3,297.9L241.9,299.5L244.1,303.7L246,306.3L247.9,307.7L250.1,308.2L253.6,308.4L331.7,308.4" stroke="#2299f2" stroke-width="0.6" stroke-dasharray="3,2" opacity="0.9"/>
<polyline points="78.7,308.4 81.2,308.4 83.8,308.4 86.3,308.4 88.8,308.4 91.4,308.4 93.9,308.4 96.4,308.4 98.9,308.4 101.5,308.4 104,308.4 106.5,308.4 109.1,308.4 111.6,308.4 114.1,308.4 116.7,308.4 119.2,308.4 121.7,308.4 124.2,308.4 126.8,308.4 129.3,308.4 131.8,308.4 134.4,308.4 136.9,308.4 139.4,308.4 141.9,308.4 144.5,308.4 147,308.4 149.5,308.4 152.1,308.4 154.6,308.4 157.1,308.4 159.7,308.3 162.2,308.1 164.7,306.7 167.2,303.3 169.8,297.9 172.3,281.4 174.8,255.1 177.4,216.3 179.9,149.1 182.4,98.5 185,58.1 187.5,31.3 190,16.9 192.6,10.8 195.1,9.3 197.6,9.3 200.1,9.3 202.7,9.3 205.2,9.3 207.7,9.3 210.3,9.3 212.8,9.3 215.3,9.3 217.9,10.8 220.4,16.9 222.9,31.3 225.4,58.1 228,98.5 230.5,149.1 233,216.3 235.6,255.1 238.1,281.4 240.6,297.9 243.1,303.3 245.7,306.7 248.2,308.1 250.7,308.3 253.3,308.4 255.8,308.4 258.3,308.4 260.9,308.4 263.4,308.4 265.9,308.4 268.4,308.4 271,308.4 273.5,308.4 276,308.4 278.6,308.4 281.1,308.4 283.6,308.4 286.2,308.4 288.7,308.4 291.2,308.4 293.8,308.4 296.3,308.4 298.8,308.4 301.3,308.4 303.9,308.4 306.4,308.4 308.9,308.4 311.5,308.4 314,308.4 316.5,308.4 319.1,308.4 321.6,308.4 324.1,308.4 326.6,308.4 329.2,308.4 331.7,308.4" stroke="none" marker-start="url(#mxb)" marker-mid="url(#mxb)" marker-end="url(#mxb)"/>
<polyline points="80,308.4 82.5,308.4 85,308.4 87.6,308.4 90.1,308.4 92.6,308.4 95.1,308.4 97.7,308.4 100.2,308.4 102.7,308.4 105.3,308.4 107.8,308.4 110.3,308.4 112.9,308.4 115.4,308.4 117.9,308.4 120.4,308.4 123,308.4 125.5,308.4 128,308.4 130.6,308.4 133.1,308.4 135.6,308.4 138.2,308.4 140.7,308.4 143.2,308.4 145.7,308.4 148.3,308.4 150.8,308.4 153.3,308.4 155.9,308.4 158.4,308.4 160.9,308.1 163.5,307.1 166,304.2 168.5,299.5 171,286.4 173.6,263.1 176.1,230.5 178.6,169.9 181.2,116.6 183.7,70.3 186.2,39.1 188.8,21.3 191.3,12.9 193.8,9.3 196.3,9.3 198.9,9.3 201.4,9.3 203.9,9.3 206.5,9.3 209,9.3 211.5,9.3 214.1,9.3 216.6,9.3 219.1,12.9 221.6,21.3 224.2,39.1 226.7,70.3 229.2,116.6 231.8,169.9 234.3,230.5 236.8,263.1 239.4,286.4 241.9,299.5 244.4,304.2 246.9,307.1 249.5,308.1 252,308.4 254.5,308.4 257.1,308.4 259.6,308.4 262.1,308.4 264.7,308.4 267.2,308.4 269.7,308.4 272.2,308.4 274.8,308.4 277.3,308.4 279.8,308.4 282.4,308.4 284.9,308.4 287.4,308.4 290,308.4 292.5,308.4 295,308.4 297.5,308.4 300.1,308.4 302.6,308.4 305.1,308.4 307.7,308.4 310.2,308.4 312.7,308.4 315.3,308.4 317.8,308.4 320.3,308.4 322.8,308.4 325.4,308.4 327.9,308.4 330.4,308.4" stroke="none" marker-start="url(#mob)" marker-mid="url(#mob)" marker-end="url(#mob)"/>
<path d="M78.7,308.4L145.1,308.4L149.9,308.1L150.8,307.8L152.1,307.1L153.3,306.1L154.9,304.4L157.4,301L159.3,296.9L161.2,291.2L163.5,283.4L166,272.6L168.5,257.8L170.4,241.6L172,221.3L175.5,152.6L178,111.6L180.8,73.6L184.3,36L186.5,23.1L188.4,15.8L189.4,13.7L191.6,10.6L192.9,9.6L194.1,9.3L216.6,9.3L217.5,9.6L218.5,10.3L219.4,11.4L221,13.7L221.6,15L222.9,19L224.2,24.7L225.8,33.6L226.7,41.7L229.2,69.8L231.4,98.1L234.6,146.9L238.4,221.3L239,230.8L240.3,244.8L242.2,259.9L243.5,267.6L245,275.6L246.6,282.2L248.8,290.2L250.4,295.2L252,299.2L253.3,301.5L256.7,305.8L259,307.5L260.9,308.1L265.3,308.4L331.7,308.4" stroke="#b5f08e" stroke-width="0.7"/>
<path d="M78.7,308.4L144.2,308.4L148.6,308.1L149.9,307.8L151.1,307L153.7,304.6L156.5,301L158.4,297L160.3,291.4L162.5,283.8L165.4,271.7L167.9,257L169.8,240.8L171.4,220.5L174.8,153.1L177.4,112.7L180.2,75.2L183.7,37.7L184.3,33L185.9,24.3L187.2,18.8L188.1,15.7L189.1,13.7L191.3,10.7L192.6,9.6L193.8,9.3L216.9,9.3L217.9,9.6L218.8,10.3L219.7,11.4L222,14.9L223.2,18.8L224.5,24.3L226.1,33L227,40.6L229.9,71.5L231.8,95.2L235.2,147.5L239,220.5L239.7,230.1L240.9,244L242.8,259.1L245.7,274.8L247.3,281.4L249.5,289.3L251.4,295.3L253,299.2L254.2,301.5L257.7,305.7L259.9,307.4L261.8,308.1L266.2,308.4L331.7,308.4" stroke="#b5f08e" stroke-width="0.6" stroke-dasharray="3,2" opacity="0.9"/>
<polyline points="78.7,308.4 81.2,308.4 83.8,308.4 86.3,308.4 88.8,308.4 91.4,308.4 93.9,308.4 96.4,308.4 98.9,308.4 101.5,308.4 104,308.4 106.5,308.4 109.1,308.4 111.6,308.4 114.1,308.4 116.7,308.4 119.2,308.4 121.7,308.4 124.2,308.4 126.8,308.4 129.3,308.4 131.8,308.4 134.4,308.4 136.9,308.4 139.4,308.4 141.9,308.4 144.5,308.4 147,308.3 149.5,308.1 152.1,307.1 154.6,304.7 157.1,301.5 159.7,296.1 162.2,288 164.7,278.4 167.2,265.8 169.8,247.7 172.3,215.7 174.8,165.1 177.4,121 179.9,85.4 182.4,55.5 185,31.7 187.5,19 190,12.7 192.6,9.8 195.1,9.3 197.6,9.3 200.1,9.3 202.7,9.3 205.2,9.3 207.7,9.3 210.3,9.3 212.8,9.3 215.3,9.3 217.9,9.8 220.4,12.7 222.9,19 225.4,31.7 228,55.5 230.5,85.4 233,121 235.6,165.1 238.1,215.7 240.6,247.7 243.1,265.8 245.7,278.4 248.2,288 250.7,296.1 253.3,301.5 255.8,304.7 258.3,307.1 260.9,308.1 263.4,308.3 265.9,308.4 268.4,308.4 271,308.4 273.5,308.4 276,308.4 278.6,308.4 281.1,308.4 283.6,308.4 286.2,308.4 288.7,308.4 291.2,308.4 293.8,308.4 296.3,308.4 298.8,308.4 301.3,308.4 303.9,308.4 306.4,308.4 308.9,308.4 311.5,308.4 314,308.4 316.5,308.4 319.1,308.4 321.6,308.4 324.1,308.4 326.6,308.4 329.2,308.4 331.7,308.4" stroke="none" marker-start="url(#mxg)" marker-mid="url(#mxg)" marker-end="url(#mxg)"/>
<polyline points="80,308.4 82.5,308.4 85,308.4 87.6,308.4 90.1,308.4 92.6,308.4 95.1,308.4 97.7,308.4 100.2,308.4 102.7,308.4 105.3,308.4 107.8,308.4 110.3,308.4 112.9,308.4 115.4,308.4 117.9,308.4 120.4,308.4 123,308.4 125.5,308.4 128,308.4 130.6,308.4 133.1,308.4 135.6,308.4 138.2,308.4 140.7,308.4 143.2,308.4 145.7,308.3 148.3,308.1 150.8,307.2 153.3,305 155.9,301.9 158.4,297 160.9,289.3 163.5,280.2 166,268.5 168.5,252.3 171,225.6 173.6,178.4 176.1,131.8 178.6,95.2 181.2,64.3 183.7,37.7 186.2,22.8 188.8,14.2 191.3,10.7 193.8,9.3 196.3,9.3 198.9,9.3 201.4,9.3 203.9,9.3 206.5,9.3 209,9.3 211.5,9.3 214.1,9.3 216.6,9.3 219.1,10.7 221.6,14.2 224.2,22.8 226.7,37.7 229.2,64.3 231.8,95.2 234.3,131.8 236.8,178.4 239.4,225.6 241.9,252.3 244.4,268.5 246.9,280.2 249.5,289.3 252,297 254.5,301.9 257.1,305 259.6,307.2 262.1,308.1 264.7,308.3 267.2,308.4 269.7,308.4 272.2,308.4 274.8,308.4 277.3,308.4 279.8,308.4 282.4,308.4 284.9,308.4 287.4,308.4 290,308.4 292.5,308.4 295,308.4 297.5,308.4 300.1,308.4 302.6,308.4 305.1,308.4 307.7,308.4 310.2,308.4 312.7,308.4 315.3,308.4 317.8,308.4 320.3,308.4 322.8,308.4 325.4,308.4 327.9,308.4 330.4,308.4" stroke="none" marker-start="url(#mog)" marker-mid="url(#mog)" marker-end="url(#mog)"/>
<path d="M78.7,308.4L135.9,308.4L141.3,308.1L143.2,307.5L145.1,306.5L147.3,304.9L149.5,302.8L150.5,301.7L151.4,300.1L153.3,295.8L155.2,290.3L157.4,282.8L159.7,272.1L164.7,239.8L168.2,212.9L170.7,187.9L172.6,159.4L175.2,136.9L177.4,100.7L179,80.6L181.8,50L183.4,35.6L185.6,22.3L186.5,17.9L187.5,14.7L188.4,13L190.3,10.7L191.9,9.6L193.2,9.3L217.2,9.3L218.2,9.4L219.1,9.9L220.1,10.7L222.3,13.5L223.2,15.6L224.2,19.2L225.4,25.7L227,35.6L230.2,66.6L233,100.7L235.2,136.9L237.8,159.4L239.4,183.8L240.3,195L243.1,220.8L246.6,246.2L251.4,275.5L252.6,281.5L254.2,287.2L256.4,294.1L258.3,298.8L260.2,302.1L263.1,304.9L266.2,307.1L267.8,307.7L269.1,308.1L274.5,308.4L331.7,308.4" stroke="#ff1e1e" stroke-width="0.7"/>
<path d="M78.7,308.4L134.4,308.4L140.1,308L141.9,307.5L144.2,306.3L146.4,304.7L148.6,302.6L150.5,299.8L152.4,295.5L154.3,290.1L156.5,282.7L158.7,272.2L163.8,240.6L167.6,211.8L170.1,187.1L172,159.1L174.5,137.1L176.7,101.6L178.3,81.7L181.5,48.4L183.1,34.6L185.3,21.9L186.2,17.6L187.2,14.6L188.1,13L190,10.7L191.6,9.6L192.9,9.3L217.5,9.3L218.5,9.5L219.4,9.9L220.7,11.1L222.9,13.9L223.5,15.5L224.5,18.9L226.1,27L227.7,37L230.8,67.9L233.7,101.6L235.9,137.1L238.4,159.1L240.6,190.7L241.9,203.5L243.8,219.7L247.3,244.8L250.4,264.8L252.3,275.5L253.6,281.4L255.2,287L257.4,293.8L259.3,298.6L261.2,301.9L264,304.7L267.2,306.9L268.8,307.6L270.3,308L276,308.4L331.7,308.4" stroke="#ff1e1e" stroke-width="0.6" stroke-dasharray="3,2" opacity="0.9"/>
<polyline points="78.7,308.4 81.2,308.4 83.8,308.4 86.3,308.4 88.8,308.4 91.4,308.4 93.9,308.4 96.4,308.4 98.9,308.4 101.5,308.4 104,308.4 106.5,308.4 109.1,308.4 111.6,308.4 114.1,308.4 116.7,308.4 119.2,308.4 121.7,308.4 124.2,308.4 126.8,308.4 129.3,308.4 131.8,308.4 134.4,308.4 136.9,308.4 139.4,308.2 141.9,307.9 144.5,306.9 147,305.1 149.5,302.8 152.1,298.8 154.6,292.3 157.1,283.9 159.7,272.1 162.2,256.5 164.7,239.8 167.2,220.8 169.8,198.3 172.3,163.6 174.8,140.5 177.4,100.7 179.9,70 182.4,43.8 185,25.7 187.5,14.7 190,11 192.6,9.4 195.1,9.3 197.6,9.3 200.1,9.3 202.7,9.3 205.2,9.3 207.7,9.3 210.3,9.3 212.8,9.3 215.3,9.3 217.9,9.4 220.4,11 222.9,14.7 225.4,25.7 228,43.8 230.5,70 233,100.7 235.6,140.5 238.1,163.6 240.6,198.3 243.1,220.8 245.7,239.8 248.2,256.5 250.7,272.1 253.3,283.9 255.8,292.3 258.3,298.8 260.9,302.8 263.4,305.1 265.9,306.9 268.4,307.9 271,308.2 273.5,308.4 276,308.4 278.6,308.4 281.1,308.4 283.6,308.4 286.2,308.4 288.7,308.4 291.2,308.4 293.8,308.4 296.3,308.4 298.8,308.4 301.3,308.4 303.9,308.4 306.4,308.4 308.9,308.4 311.5,308.4 314,308.4 316.5,308.4 319.1,308.4 321.6,308.4 324.1,308.4 326.6,308.4 329.2,308.4 331.7,308.4" stroke="none" marker-start="url(#mxr)" marker-mid="url(#mxr)" marker-end="url(#mxr)"/>
<polyline points="80,308.4 82.5,308.4 85,308.4 87.6,308.4 90.1,308.4 92.6,308.4 95.1,308.4 97.7,308.4 100.2,308.4 102.7,308.4 105.3,308.4 107.8,308.4 110.3,308.4 112.9,308.4 115.4,308.4 117.9,308.4 120.4,308.4 123,308.4 125.5,308.4 128,308.4 130.6,308.4 133.1,308.4 135.6,308.4 138.2,308.2 140.7,307.9 143.2,306.9 145.7,305.2 148.3,302.9 150.8,299.2 153.3,292.9 155.9,284.9 158.4,273.9 160.9,258.9 163.5,242.8 166,224.6 168.5,203.5 171,172.8 173.6,146.1 176.1,111.7 178.6,78.1 181.2,51.6 183.7,30.7 186.2,17.6 188.8,12.2 191.3,9.7 193.8,9.3 196.3,9.3 198.9,9.3 201.4,9.3 203.9,9.3 206.5,9.3 209,9.3 211.5,9.3 214.1,9.3 216.6,9.3 219.1,9.7 221.6,12.2 224.2,17.6 226.7,30.7 229.2,51.6 231.8,78.1 234.3,111.7 236.8,146.1 239.4,172.8 241.9,203.5 244.4,224.6 246.9,242.8 249.5,258.9 252,273.9 254.5,284.9 257.1,292.9 259.6,299.2 262.1,302.9 264.7,305.2 267.2,306.9 269.7,307.9 272.2,308.2 274.8,308.4 277.3,308.4 279.8,308.4 282.4,308.4 284.9,308.4 287.4,308.4 290,308.4 292.5,308.4 295,308.4 297.5,308.4 300.1,308.4 302.6,308.4 305.1,308.4 307.7,308.4 310.2,308.4 312.7,308.4 315.3,308.4 317.8,308.4 320.3,308.4 322.8,308.4 325.4,308.4 327.9,308.4 330.4,308.4" stroke="none" marker-start="url(#mor)" marker-mid="url(#mor)" marker-end="url(#mor)"/>
</g>
<path d="M78.7,308.4v-2.5M78.7,9.3v2.5" stroke="#999" stroke-width="0.8"/>
<text x="78.7" y="321.9" font-size="12.6" text-anchor="middle" fill="#111" textLength="19.0" lengthAdjust="spacingAndGlyphs">0.0</text>
<path d="M141.9,308.4v-2.5M141.9,9.3v2.5" stroke="#999" stroke-width="0.8"/>
<text x="141.9" y="321.9" font-size="12.6" text-anchor="middle" fill="#111" textLength="19.0" lengthAdjust="spacingAndGlyphs">0.1</text>
<path d="M205.2,308.4v-2.5M205.2,9.3v2.5" stroke="#999" stroke-width="0.8"/>
<text x="205.2" y="321.9" font-size="12.6" text-anchor="middle" fill="#111" textLength="19.0" lengthAdjust="spacingAndGlyphs">0.2</text>
<path d="M268.4,308.4v-2.5M268.4,9.3v2.5" stroke="#999" stroke-width="0.8"/>
<text x="268.4" y="321.9" font-size="12.6" text-anchor="middle" fill="#111" textLength="19.0" lengthAdjust="spacingAndGlyphs">0.3</text>
<path d="M78.7,308.4h2.5M331.7,308.4h-2.5" stroke="#999" stroke-width="0.8"/>
<text x="76.8" y="313.0" font-size="12.6" text-anchor="end" fill="#111" textLength="19.0" lengthAdjust="spacingAndGlyphs">0.0</text>
<path d="M78.7,248.6h2.5M331.7,248.6h-2.5" stroke="#999" stroke-width="0.8"/>
<text x="76.8" y="246.7" font-size="8.4" text-anchor="end" fill="#111" textLength="11.6" lengthAdjust="spacingAndGlyphs">−3</text>
<text x="63.8" y="252.4" font-size="13" text-anchor="end" fill="#111" textLength="35.2" lengthAdjust="spacingAndGlyphs">2×10</text>
<path d="M78.7,188.8h2.5M331.7,188.8h-2.5" stroke="#999" stroke-width="0.8"/>
<text x="76.8" y="186.9" font-size="8.4" text-anchor="end" fill="#111" textLength="11.6" lengthAdjust="spacingAndGlyphs">−3</text>
<text x="63.8" y="192.6" font-size="13" text-anchor="end" fill="#111" textLength="35.2" lengthAdjust="spacingAndGlyphs">4×10</text>
<path d="M78.7,128.9h2.5M331.7,128.9h-2.5" stroke="#999" stroke-width="0.8"/>
<text x="76.8" y="127.0" font-size="8.4" text-anchor="end" fill="#111" textLength="11.6" lengthAdjust="spacingAndGlyphs">−3</text>
<text x="63.8" y="132.7" font-size="13" text-anchor="end" fill="#111" textLength="35.2" lengthAdjust="spacingAndGlyphs">6×10</text>
<path d="M78.7,69.1h2.5M331.7,69.1h-2.5" stroke="#999" stroke-width="0.8"/>
<text x="76.8" y="67.2" font-size="8.4" text-anchor="end" fill="#111" textLength="11.6" lengthAdjust="spacingAndGlyphs">−3</text>
<text x="63.8" y="72.9" font-size="13" text-anchor="end" fill="#111" textLength="35.2" lengthAdjust="spacingAndGlyphs">8×10</text>
<path d="M78.7,9.3h2.5M331.7,9.3h-2.5" stroke="#999" stroke-width="0.8"/>
<text x="76.8" y="7.4" font-size="8.4" text-anchor="end" fill="#111" textLength="11.6" lengthAdjust="spacingAndGlyphs">−2</text>
<text x="63.8" y="13.1" font-size="13" text-anchor="end" fill="#111" textLength="15.2" lengthAdjust="spacingAndGlyphs">10</text>
<text x="205.8" y="336.2" font-size="12.8" text-anchor="middle" fill="#111" textLength="42.0" lengthAdjust="spacingAndGlyphs">y (cm)</text>
<text transform="translate(21.8,158.8) rotate(-90)" font-size="13" text-anchor="middle" fill="#111" textLength="79.5" lengthAdjust="spacingAndGlyphs">conc (mol/L)</text>
<text x="136.2" y="24.0" font-size="10.5" text-anchor="start" fill="#111" textLength="32.8" lengthAdjust="spacingAndGlyphs" font-style="italic">matrix</text>
<text x="185.9" y="24.0" font-size="10.5" text-anchor="start" fill="#111" textLength="40.0" lengthAdjust="spacingAndGlyphs" font-style="italic">fracture</text>
<text x="243.5" y="24.0" font-size="10.5" text-anchor="start" fill="#111" textLength="32.8" lengthAdjust="spacingAndGlyphs" font-style="italic">matrix</text>
<text x="77.9" y="293.9" font-size="21" text-anchor="start" fill="#000" textLength="25.3" lengthAdjust="spacingAndGlyphs" font-weight="bold">(a)</text>
<text x="105.9" y="292.7" font-size="13.5" text-anchor="start" fill="#000" textLength="38.3" lengthAdjust="spacingAndGlyphs">Tracer</text>
<rect x="256.4" y="114.6" width="72" height="88.6" fill="#fff" stroke="#333" stroke-width="0.8"/>
<path d="M261.59999999999997,120.4H272.9" stroke="#9933ff" stroke-width="0.65" stroke-dasharray="3,2" fill="none"/>
<circle cx="261.59999999999997" cy="120.4" r="1.5" fill="#fff" stroke="#9933ff" stroke-width="0.6"/>
<circle cx="272.9" cy="120.4" r="1.5" fill="#fff" stroke="#9933ff" stroke-width="0.6"/>
<text x="280.7" y="123.0" font-size="7.4" text-anchor="start" fill="#222" textLength="36.5" lengthAdjust="spacingAndGlyphs">CF: 5.08 s</text>
<path d="M261.59999999999997,131.3H272.9" stroke="#2299f2" stroke-width="0.65" stroke-dasharray="3,2" fill="none"/>
<circle cx="261.59999999999997" cy="131.3" r="1.5" fill="#fff" stroke="#2299f2" stroke-width="0.6"/>
<circle cx="272.9" cy="131.3" r="1.5" fill="#fff" stroke="#2299f2" stroke-width="0.6"/>
<text x="280.7" y="133.9" font-size="7.4" text-anchor="start" fill="#222" textLength="41.5" lengthAdjust="spacingAndGlyphs">CF: 10.16 s</text>
<path d="M261.59999999999997,142.2H272.9" stroke="#b5f08e" stroke-width="0.65" stroke-dasharray="3,2" fill="none"/>
<circle cx="261.59999999999997" cy="142.2" r="1.5" fill="#fff" stroke="#b5f08e" stroke-width="0.6"/>
<circle cx="272.9" cy="142.2" r="1.5" fill="#fff" stroke="#b5f08e" stroke-width="0.6"/>
<text x="280.7" y="144.8" font-size="7.4" text-anchor="start" fill="#222" textLength="41.5" lengthAdjust="spacingAndGlyphs">CF: 20.31 s</text>
<path d="M261.59999999999997,153.1H272.9" stroke="#ff1e1e" stroke-width="0.65" stroke-dasharray="3,2" fill="none"/>
<circle cx="261.59999999999997" cy="153.1" r="1.5" fill="#fff" stroke="#ff1e1e" stroke-width="0.6"/>
<circle cx="272.9" cy="153.1" r="1.5" fill="#fff" stroke="#ff1e1e" stroke-width="0.6"/>
<text x="280.7" y="155.7" font-size="7.4" text-anchor="start" fill="#222" textLength="41.5" lengthAdjust="spacingAndGlyphs">CF: 30.08 s</text>
<path d="M260.59999999999997,164.0H273.9" stroke="#9933ff" stroke-width="0.65" fill="none"/>
<path d="M259.9,162.3l3.4,3.4M259.9,165.7l3.4,-3.4" stroke="#9933ff" stroke-width="0.5"/>
<path d="M271.2,162.3l3.4,3.4M271.2,165.7l3.4,-3.4" stroke="#9933ff" stroke-width="0.5"/>
<text x="280.7" y="166.6" font-size="7.4" text-anchor="start" fill="#222" textLength="39.7" lengthAdjust="spacingAndGlyphs">Ch.: 5.08 s</text>
<path d="M260.59999999999997,174.9H273.9" stroke="#2299f2" stroke-width="0.65" fill="none"/>
<path d="M259.9,173.2l3.4,3.4M259.9,176.6l3.4,-3.4" stroke="#2299f2" stroke-width="0.5"/>
<path d="M271.2,173.2l3.4,3.4M271.2,176.6l3.4,-3.4" stroke="#2299f2" stroke-width="0.5"/>
<text x="280.7" y="177.5" font-size="7.4" text-anchor="start" fill="#222" textLength="44.5" lengthAdjust="spacingAndGlyphs">Ch.: 10.16 s</text>
<path d="M260.59999999999997,185.8H273.9" stroke="#b5f08e" stroke-width="0.65" fill="none"/>
<path d="M259.9,184.1l3.4,3.4M259.9,187.5l3.4,-3.4" stroke="#b5f08e" stroke-width="0.5"/>
<path d="M271.2,184.1l3.4,3.4M271.2,187.5l3.4,-3.4" stroke="#b5f08e" stroke-width="0.5"/>
<text x="280.7" y="188.4" font-size="7.4" text-anchor="start" fill="#222" textLength="44.5" lengthAdjust="spacingAndGlyphs">Ch.: 20.31 s</text>
<path d="M260.59999999999997,196.7H273.9" stroke="#ff1e1e" stroke-width="0.65" fill="none"/>
<path d="M259.9,195.0l3.4,3.4M259.9,198.4l3.4,-3.4" stroke="#ff1e1e" stroke-width="0.5"/>
<path d="M271.2,195.0l3.4,3.4M271.2,198.4l3.4,-3.4" stroke="#ff1e1e" stroke-width="0.5"/>
<text x="280.7" y="199.3" font-size="7.4" text-anchor="start" fill="#222" textLength="44.5" lengthAdjust="spacingAndGlyphs">Ch.: 30.08 s</text>
</g>
<g>
<line x1="513.3" x2="513.3" y1="9.3" y2="308.5" stroke="#6db56d" stroke-width="1" stroke-dasharray="4,3"/>
<line x1="576.5" x2="576.5" y1="9.3" y2="308.5" stroke="#6db56d" stroke-width="1" stroke-dasharray="4,3"/>
<rect x="418.4" y="9.3" width="253.0" height="299.2" fill="none" stroke="#999" stroke-width="1"/>
<clipPath id="clipb"><rect x="418.4" y="7.300000000000001" width="255.0" height="303.2"/></clipPath>
<g clip-path="url(#clipb)" fill="none">
<path d="M418.4,240.9L492.4,240.9L495.6,241.1L498.7,241.6L500.3,242.2L502.2,243.3L503.8,244.3L505.1,245.5L507.6,248.8L509.2,252L510.7,256.7L511.7,261L512.6,267L515.5,289.2L516.8,296L518,300.7L519.6,304.6L520.9,306.7L521.5,307.3L523.1,308.1L525.3,308.5L564.8,308.5L566.7,308.1L568.6,307L569.9,305.2L571.1,302.4L572.1,299.8L573,296L574.3,289.2L576.2,273.7L577.8,262.8L578.7,257.9L579.7,254.7L581.6,249.9L583.8,246.6L586,244.3L589.5,242.2L591.7,241.5L597.7,240.9L671.4,240.9" stroke="#9933ff" stroke-width="0.7"/>
<path d="M418.4,240.9L493.4,240.9L499.4,241.6L500.9,242.1L502.8,243.2L504.4,244.3L505.7,245.4L508.2,248.8L509.8,252L511.4,256.8L512.3,261.2L513.3,267.5L516.1,289.9L517.4,296.6L518.3,300.3L520.2,305L521.5,306.9L523.7,308.2L525.6,308.5L564.5,308.5L566.4,308L568.3,306.9L569.6,305L571.1,301.2L571.8,299.2L572.7,295.1L574,287.8L575.6,274.3L577.2,263.2L578.1,258L579.1,254.7L581,249.9L583.2,246.5L585.4,244.3L588.9,242.1L591.4,241.4L596.8,240.9L671.4,240.9" stroke="#9933ff" stroke-width="0.6" stroke-dasharray="3,2" opacity="0.9"/>
<polyline points="418.4,240.9 420.9,240.9 423.5,240.9 426,240.9 428.5,240.9 431,240.9 433.6,240.9 436.1,240.9 438.6,240.9 441.2,240.9 443.7,240.9 446.2,240.9 448.8,240.9 451.3,240.9 453.8,240.9 456.3,240.9 458.9,240.9 461.4,240.9 463.9,240.9 466.5,240.9 469,240.9 471.5,240.9 474.1,240.9 476.6,240.9 479.1,240.9 481.6,240.9 484.2,240.9 486.7,240.9 489.2,240.9 491.8,240.9 494.3,241 496.8,241.3 499.4,241.8 501.9,243.1 504.4,244.9 506.9,247.9 509.5,252.8 512,262.8 514.5,281.7 517.1,297.4 519.6,304.6 522.1,307.6 524.7,308.5 527.2,308.5 529.7,308.5 532.2,308.5 534.8,308.5 537.3,308.5 539.8,308.5 542.4,308.5 544.9,308.5 547.4,308.5 550,308.5 552.5,308.5 555,308.5 557.5,308.5 560.1,308.5 562.6,308.5 565.1,308.5 567.7,307.6 570.2,304.6 572.7,297.4 575.3,281.7 577.8,262.8 580.3,252.8 582.8,247.9 585.4,244.9 587.9,243.1 590.4,241.8 593,241.3 595.5,241 598,240.9 600.6,240.9 603.1,240.9 605.6,240.9 608.1,240.9 610.7,240.9 613.2,240.9 615.7,240.9 618.3,240.9 620.8,240.9 623.3,240.9 625.9,240.9 628.4,240.9 630.9,240.9 633.5,240.9 636,240.9 638.5,240.9 641,240.9 643.6,240.9 646.1,240.9 648.6,240.9 651.2,240.9 653.7,240.9 656.2,240.9 658.8,240.9 661.3,240.9 663.8,240.9 666.3,240.9 668.9,240.9 671.4,240.9" stroke="none" marker-start="url(#mxp)" marker-mid="url(#mxp)" marker-end="url(#mxp)"/>
<polyline points="419.7,240.9 422.2,240.9 424.7,240.9 427.3,240.9 429.8,240.9 432.3,240.9 434.8,240.9 437.4,240.9 439.9,240.9 442.4,240.9 445,240.9 447.5,240.9 450,240.9 452.6,240.9 455.1,240.9 457.6,240.9 460.1,240.9 462.7,240.9 465.2,240.9 467.7,240.9 470.3,240.9 472.8,240.9 475.3,240.9 477.9,240.9 480.4,240.9 482.9,240.9 485.4,240.9 488,240.9 490.5,240.9 493,240.9 495.6,241 498.1,241.3 500.6,242 503.2,243.4 505.7,245.4 508.2,248.8 510.7,254.7 513.3,267.5 515.8,287.8 518.3,300.3 520.9,306.1 523.4,308 525.9,308.5 528.5,308.5 531,308.5 533.5,308.5 536,308.5 538.6,308.5 541.1,308.5 543.6,308.5 546.2,308.5 548.7,308.5 551.2,308.5 553.8,308.5 556.3,308.5 558.8,308.5 561.3,308.5 563.9,308.5 566.4,308 568.9,306.1 571.5,300.3 574,287.8 576.5,267.5 579.1,254.7 581.6,248.8 584.1,245.4 586.6,243.4 589.2,242 591.7,241.3 594.2,241 596.8,240.9 599.3,240.9 601.8,240.9 604.4,240.9 606.9,240.9 609.4,240.9 611.9,240.9 614.5,240.9 617,240.9 619.5,240.9 622.1,240.9 624.6,240.9 627.1,240.9 629.7,240.9 632.2,240.9 634.7,240.9 637.2,240.9 639.8,240.9 642.3,240.9 644.8,240.9 647.4,240.9 649.9,240.9 652.4,240.9 655,240.9 657.5,240.9 660,240.9 662.5,240.9 665.1,240.9 667.6,240.9 670.1,240.9" stroke="none" marker-start="url(#mop)" marker-mid="url(#mop)" marker-end="url(#mop)"/>
<path d="M418.4,188.8L489.6,188.9L493.4,189.5L495.9,190.2L498.7,192L502.2,195L504.7,198.4L506.3,201.9L508.2,208.6L510.1,217.4L511.4,225.9L512.3,234.2L514.2,259.1L515.5,271.2L516.8,280.6L519,292.2L519.9,295.9L520.9,298.6L522.4,302.5L523.7,305L524.7,306.2L526.2,307.6L527.5,308.3L528.8,308.5L561.7,308.5L562.9,308L564.8,306.6L565.8,305.4L566.7,303.8L568.6,299.5L570.2,294.8L571.8,287.7L573.4,278.6L575.3,262.5L577.8,231.1L579.1,221.3L580,215.8L582.2,206.1L584.1,200.3L585.1,198.4L586.3,196.5L589.2,193.5L592,191.3L594.2,190L597.4,189.3L600.9,188.8L671.4,188.8" stroke="#2299f2" stroke-width="0.7"/>
<path d="M418.4,188.8L490.2,188.9L494,189.4L496.8,190.2L499.4,191.9L502.8,194.9L505.4,198.3L506.9,201.7L508.8,208.5L510.7,217.5L512,226.2L513,234.8L514.9,260.1L516.1,272.2L517.4,281.5L519.6,293L521.5,299.2L522.8,302.4L524,304.9L525,306.2L526.6,307.5L527.8,308.3L529.1,308.5L561.3,308.5L562.6,308L564.5,306.5L565.5,305.4L566.4,303.7L568.3,299.2L569.9,294.3L571.1,288.6L572.7,279.5L574.9,260.1L577.2,231.6L578.4,221.5L579.4,215.8L581.6,206L583.5,200.1L584.4,198.3L585.7,196.4L588.5,193.4L591.4,191.2L593.6,189.9L596.8,189.2L599.9,188.8L671.4,188.8" stroke="#2299f2" stroke-width="0.6" stroke-dasharray="3,2" opacity="0.9"/>
<polyline points="418.4,188.8 420.9,188.8 423.5,188.8 426,188.8 428.5,188.8 431,188.8 433.6,188.8 436.1,188.8 438.6,188.8 441.2,188.8 443.7,188.8 446.2,188.8 448.8,188.8 451.3,188.8 453.8,188.8 456.3,188.8 458.9,188.8 461.4,188.8 463.9,188.8 466.5,188.8 469,188.8 471.5,188.8 474.1,188.8 476.6,188.8 479.1,188.8 481.6,188.8 484.2,188.8 486.7,188.8 489.2,188.9 491.8,189.2 494.3,189.7 496.8,190.7 499.4,192.5 501.9,194.7 504.4,197.9 506.9,203.8 509.5,214.3 512,231.1 514.5,262.5 517.1,282.5 519.6,294.8 522.1,301.8 524.7,306.2 527.2,308.1 529.7,308.5 532.2,308.5 534.8,308.5 537.3,308.5 539.8,308.5 542.4,308.5 544.9,308.5 547.4,308.5 550,308.5 552.5,308.5 555,308.5 557.5,308.5 560.1,308.5 562.6,308.1 565.1,306.2 567.7,301.8 570.2,294.8 572.7,282.5 575.3,262.5 577.8,231.1 580.3,214.3 582.8,203.8 585.4,197.9 587.9,194.7 590.4,192.5 593,190.7 595.5,189.7 598,189.2 600.6,188.9 603.1,188.8 605.6,188.8 608.1,188.8 610.7,188.8 613.2,188.8 615.7,188.8 618.3,188.8 620.8,188.8 623.3,188.8 625.9,188.8 628.4,188.8 630.9,188.8 633.5,188.8 636,188.8 638.5,188.8 641,188.8 643.6,188.8 646.1,188.8 648.6,188.8 651.2,188.8 653.7,188.8 656.2,188.8 658.8,188.8 661.3,188.8 663.8,188.8 666.3,188.8 668.9,188.8 671.4,188.8" stroke="none" marker-start="url(#mxb)" marker-mid="url(#mxb)" marker-end="url(#mxb)"/>
<polyline points="419.7,188.8 422.2,188.8 424.7,188.8 427.3,188.8 429.8,188.8 432.3,188.8 434.8,188.8 437.4,188.8 439.9,188.8 442.4,188.8 445,188.8 447.5,188.8 450,188.8 452.6,188.8 455.1,188.8 457.6,188.8 460.1,188.8 462.7,188.8 465.2,188.8 467.7,188.8 470.3,188.8 472.8,188.8 475.3,188.8 477.9,188.8 480.4,188.8 482.9,188.8 485.4,188.8 488,188.8 490.5,188.9 493,189.2 495.6,189.7 498.1,191 500.6,192.9 503.2,195.2 505.7,198.8 508.2,206 510.7,217.5 513.3,238.6 515.8,269.4 518.3,286.9 520.9,297.4 523.4,303.7 525.9,307.1 528.5,308.5 531,308.5 533.5,308.5 536,308.5 538.6,308.5 541.1,308.5 543.6,308.5 546.2,308.5 548.7,308.5 551.2,308.5 553.8,308.5 556.3,308.5 558.8,308.5 561.3,308.5 563.9,307.1 566.4,303.7 568.9,297.4 571.5,286.9 574,269.4 576.5,238.6 579.1,217.5 581.6,206 584.1,198.8 586.6,195.2 589.2,192.9 591.7,191 594.2,189.7 596.8,189.2 599.3,188.9 601.8,188.8 604.4,188.8 606.9,188.8 609.4,188.8 611.9,188.8 614.5,188.8 617,188.8 619.5,188.8 622.1,188.8 624.6,188.8 627.1,188.8 629.7,188.8 632.2,188.8 634.7,188.8 637.2,188.8 639.8,188.8 642.3,188.8 644.8,188.8 647.4,188.8 649.9,188.8 652.4,188.8 655,188.8 657.5,188.8 660,188.8 662.5,188.8 665.1,188.8 667.6,188.8 670.1,188.8" stroke="none" marker-start="url(#mob)" marker-mid="url(#mob)" marker-end="url(#mob)"/>
<path d="M418.4,105L482.6,105.2L488.6,106.2L491.8,107.1L494,107.8L495.9,108.7L497.8,109.9L499.7,111.5L500.9,112.9L501.9,114.9L503.2,118.9L506.6,132.5L509.8,148.8L511.7,162L513,175.8L514.5,204.5L516.4,229.7L519.9,267.3L521.8,283.3L524,295L525,298.5L526.2,301.8L527.8,305.1L529.1,307L530.4,308L532.2,308.5L557.5,308.5L558.8,308.3L560.4,307.4L561.7,305.7L563.6,301.8L565.1,297.5L566.4,292.1L568,283.3L568.9,276.2L570.2,264L574,222L575.3,204.5L576.8,175.8L577.5,167.9L578.4,159.4L580.3,147L583.5,131.1L587,117.8L587.9,114.9L588.9,112.9L590.1,111.5L592,109.9L593.9,108.7L595.8,107.8L598,107.1L601.2,106.2L607.2,105.2L671.4,105" stroke="#b5f08e" stroke-width="0.7"/>
<path d="M418.4,105L483.9,105.2L487,105.6L490.8,106.5L495.2,108L497.1,108.9L499,110.2L500.9,111.8L501.9,113L502.8,115.2L503.8,118.2L507.3,131.9L510.4,148.5L512.3,161.8L513.6,175.9L515.2,205.1L517.1,230.6L520.5,268.7L521.5,277.6L522.4,284.4L524.7,295.9L525.6,299.2L526.9,302.4L528.5,305.7L529.7,307.4L531.3,308.3L532.6,308.5L557.2,308.5L558.5,308.3L560.1,307.4L561.3,305.7L563.2,301.7L564.8,297.2L566.1,291.6L567.7,282.4L569.9,262.1L573.4,222.8L574.6,205.1L576.2,175.9L576.8,167.8L577.8,159.2L579.7,146.7L582.8,130.5L586.3,117.2L587.3,114.4L588.2,112.5L591.4,109.7L593.3,108.6L595.2,107.7L600.9,106.1L606.3,105.1L671.4,105" stroke="#b5f08e" stroke-width="0.6" stroke-dasharray="3,2" opacity="0.9"/>
<polyline points="418.4,105 420.9,105 423.5,105 426,105 428.5,105 431,105 433.6,105 436.1,105 438.6,105 441.2,105 443.7,105 446.2,105 448.8,105 451.3,105 453.8,105 456.3,105 458.9,105 461.4,105 463.9,105 466.5,105 469,105 471.5,105 474.1,105 476.6,105 479.1,105 481.6,105.1 484.2,105.4 486.7,105.8 489.2,106.4 491.8,107.1 494.3,108 496.8,109.3 499.4,111.2 501.9,114.9 504.4,123.6 506.9,134 509.5,147 512,164.8 514.5,204.5 517.1,237 519.6,264 522.1,285.2 524.7,297.5 527.2,303.9 529.7,307.6 532.2,308.5 534.8,308.5 537.3,308.5 539.8,308.5 542.4,308.5 544.9,308.5 547.4,308.5 550,308.5 552.5,308.5 555,308.5 557.5,308.5 560.1,307.6 562.6,303.9 565.1,297.5 567.7,285.2 570.2,264 572.7,237 575.3,204.5 577.8,164.8 580.3,147 582.8,134 585.4,123.6 587.9,114.9 590.4,111.2 593,109.3 595.5,108 598,107.1 600.6,106.4 603.1,105.8 605.6,105.4 608.1,105.1 610.7,105 613.2,105 615.7,105 618.3,105 620.8,105 623.3,105 625.9,105 628.4,105 630.9,105 633.5,105 636,105 638.5,105 641,105 643.6,105 646.1,105 648.6,105 651.2,105 653.7,105 656.2,105 658.8,105 661.3,105 663.8,105 666.3,105 668.9,105 671.4,105" stroke="none" marker-start="url(#mxg)" marker-mid="url(#mxg)" marker-end="url(#mxg)"/>
<polyline points="419.7,105 422.2,105 424.7,105 427.3,105 429.8,105 432.3,105 434.8,105 437.4,105 439.9,105 442.4,105 445,105 447.5,105 450,105 452.6,105 455.1,105 457.6,105 460.1,105 462.7,105 465.2,105 467.7,105 470.3,105 472.8,105 475.3,105 477.9,105 480.4,105 482.9,105.1 485.4,105.4 488,105.8 490.5,106.4 493,107.1 495.6,108.1 498.1,109.5 500.6,111.5 503.2,116.2 505.7,125.3 508.2,136.6 510.7,150.4 513.3,171.4 515.8,214.4 518.3,245 520.9,271.8 523.4,289.9 525.9,300.1 528.5,305.7 531,308.1 533.5,308.5 536,308.5 538.6,308.5 541.1,308.5 543.6,308.5 546.2,308.5 548.7,308.5 551.2,308.5 553.8,308.5 556.3,308.5 558.8,308.1 561.3,305.7 563.9,300.1 566.4,289.9 568.9,271.8 571.5,245 574,214.4 576.5,171.4 579.1,150.4 581.6,136.6 584.1,125.3 586.6,116.2 589.2,111.5 591.7,109.5 594.2,108.1 596.8,107.1 599.3,106.4 601.8,105.8 604.4,105.4 606.9,105.1 609.4,105 611.9,105 614.5,105 617,105 619.5,105 622.1,105 624.6,105 627.1,105 629.7,105 632.2,105 634.7,105 637.2,105 639.8,105 642.3,105 644.8,105 647.4,105 649.9,105 652.4,105 655,105 657.5,105 660,105 662.5,105 665.1,105 667.6,105 670.1,105" stroke="none" marker-start="url(#mog)" marker-mid="url(#mog)" marker-end="url(#mog)"/>
<path d="M418.4,39.2L476.9,39.2L481.6,39.8L486.1,41L488,41.8L490.5,43.3L494,46L496.5,48.4L498.7,51.2L500.6,54.1L502.2,57.3L504.7,64.5L506.9,73.5L508.8,85.9L510.7,102.7L512,119.7L513.3,154.8L515.2,186.8L519.3,239.1L521.8,266.2L523.4,280.4L525.6,293.1L526.6,297.1L527.8,300.7L529.4,304.3L531,306.9L532.2,307.9L533.5,308.4L534.8,308.5L555.3,308.5L556.6,308.3L557.9,307.8L558.5,307.3L559.4,306L561.3,302.3L562.9,298.2L564.2,293.1L566.1,282.6L567.4,272.4L570.2,242.7L572.1,220.1L575.6,172.5L576.5,154.8L577.8,119.7L579.4,99.5L581.3,83.5L583.2,71.9L585.7,62.5L587,58.9L588.5,55.3L590.4,52.1L592.7,49.1L594.9,46.8L597.7,44.5L600.2,42.7L602.5,41.5L605.6,40.5L609.1,39.6L613.2,39.2L671.4,39.2" stroke="#ff1e1e" stroke-width="0.7"/>
<path d="M418.4,39.2L478.2,39.2L482.3,39.7L487,41L488.9,41.7L491.5,43.2L494.6,45.7L497.1,48.1L499.4,50.8L501.3,53.7L502.8,56.8L505.4,64L507.6,72.9L509.5,85.3L511.4,102.3L512.6,119.5L513.9,155L515.8,187.6L519.6,236.9L522.1,264.7L523.7,279.6L525.9,292.8L526.9,296.9L527.8,299.9L529.7,304.4L531.3,307L532.6,308L533.8,308.4L534.8,308.5L555.3,308.5L557.5,307.8L558.2,307.3L559.1,306.1L561,302.3L562.6,298L563.9,292.8L565.8,281.9L567,271.2L569.9,240.6L571.8,217.3L574.9,173L575.9,155L577.2,119.5L578.7,99.1L580.6,82.9L582.5,71.4L585.1,62L586.3,58.4L587.9,54.8L589.8,51.7L592,48.8L594.6,46.2L597.4,43.9L599.6,42.4L601.8,41.3L608.1,39.6L611.6,39.2L671.4,39.2" stroke="#ff1e1e" stroke-width="0.6" stroke-dasharray="3,2" opacity="0.9"/>
<polyline points="418.4,39.2 420.9,39.2 423.5,39.2 426,39.2 428.5,39.2 431,39.2 433.6,39.2 436.1,39.2 438.6,39.2 441.2,39.2 443.7,39.2 446.2,39.2 448.8,39.2 451.3,39.2 453.8,39.2 456.3,39.2 458.9,39.2 461.4,39.2 463.9,39.2 466.5,39.2 469,39.2 471.5,39.2 474.1,39.2 476.6,39.2 479.1,39.4 481.6,39.8 484.2,40.5 486.7,41.2 489.2,42.5 491.8,44.2 494.3,46.3 496.8,48.8 499.4,52.1 501.9,56.6 504.4,63.5 506.9,73.5 509.5,91 512,119.7 514.5,177.5 517.1,212 519.6,242.7 522.1,269.3 524.7,288.2 527.2,299.1 529.7,305 532.2,307.9 534.8,308.5 537.3,308.5 539.8,308.5 542.4,308.5 544.9,308.5 547.4,308.5 550,308.5 552.5,308.5 555,308.5 557.5,307.9 560.1,305 562.6,299.1 565.1,288.2 567.7,269.3 570.2,242.7 572.7,212 575.3,177.5 577.8,119.7 580.3,91 582.8,73.5 585.4,63.5 587.9,56.6 590.4,52.1 593,48.8 595.5,46.3 598,44.2 600.6,42.5 603.1,41.2 605.6,40.5 608.1,39.8 610.7,39.4 613.2,39.2 615.7,39.2 618.3,39.2 620.8,39.2 623.3,39.2 625.9,39.2 628.4,39.2 630.9,39.2 633.5,39.2 636,39.2 638.5,39.2 641,39.2 643.6,39.2 646.1,39.2 648.6,39.2 651.2,39.2 653.7,39.2 656.2,39.2 658.8,39.2 661.3,39.2 663.8,39.2 666.3,39.2 668.9,39.2 671.4,39.2" stroke="none" marker-start="url(#mxr)" marker-mid="url(#mxr)" marker-end="url(#mxr)"/>
<polyline points="419.7,39.2 422.2,39.2 424.7,39.2 427.3,39.2 429.8,39.2 432.3,39.2 434.8,39.2 437.4,39.2 439.9,39.2 442.4,39.2 445,39.2 447.5,39.2 450,39.2 452.6,39.2 455.1,39.2 457.6,39.2 460.1,39.2 462.7,39.2 465.2,39.2 467.7,39.2 470.3,39.2 472.8,39.2 475.3,39.2 477.9,39.2 480.4,39.4 482.9,39.8 485.4,40.5 488,41.3 490.5,42.6 493,44.4 495.6,46.5 498.1,49.2 500.6,52.7 503.2,57.6 505.7,65.1 508.2,76.5 510.7,96.1 513.3,135.9 515.8,187.6 518.3,221.4 520.9,251.1 523.4,277 525.9,292.8 528.5,301.5 531,306.6 533.5,308.3 536,308.5 538.6,308.5 541.1,308.5 543.6,308.5 546.2,308.5 548.7,308.5 551.2,308.5 553.8,308.5 556.3,308.3 558.8,306.6 561.3,301.5 563.9,292.8 566.4,277 568.9,251.1 571.5,221.4 574,187.6 576.5,135.9 579.1,96.1 581.6,76.5 584.1,65.1 586.6,57.6 589.2,52.7 591.7,49.2 594.2,46.5 596.8,44.4 599.3,42.6 601.8,41.3 604.4,40.5 606.9,39.8 609.4,39.4 611.9,39.2 614.5,39.2 617,39.2 619.5,39.2 622.1,39.2 624.6,39.2 627.1,39.2 629.7,39.2 632.2,39.2 634.7,39.2 637.2,39.2 639.8,39.2 642.3,39.2 644.8,39.2 647.4,39.2 649.9,39.2 652.4,39.2 655,39.2 657.5,39.2 660,39.2 662.5,39.2 665.1,39.2 667.6,39.2 670.1,39.2" stroke="none" marker-start="url(#mor)" marker-mid="url(#mor)" marker-end="url(#mor)"/>
</g>
<path d="M418.4,308.5v-2.5M418.4,9.3v2.5" stroke="#999" stroke-width="0.8"/>
<text x="418.4" y="322.0" font-size="12.6" text-anchor="middle" fill="#111" textLength="19.0" lengthAdjust="spacingAndGlyphs">0.0</text>
<path d="M481.6,308.5v-2.5M481.6,9.3v2.5" stroke="#999" stroke-width="0.8"/>
<text x="481.6" y="322.0" font-size="12.6" text-anchor="middle" fill="#111" textLength="19.0" lengthAdjust="spacingAndGlyphs">0.1</text>
<path d="M544.9,308.5v-2.5M544.9,9.3v2.5" stroke="#999" stroke-width="0.8"/>
<text x="544.9" y="322.0" font-size="12.6" text-anchor="middle" fill="#111" textLength="19.0" lengthAdjust="spacingAndGlyphs">0.2</text>
<path d="M608.1,308.5v-2.5M608.1,9.3v2.5" stroke="#999" stroke-width="0.8"/>
<text x="608.1" y="322.0" font-size="12.6" text-anchor="middle" fill="#111" textLength="19.0" lengthAdjust="spacingAndGlyphs">0.3</text>
<path d="M418.4,308.5h2.5M671.4,308.5h-2.5" stroke="#999" stroke-width="0.8"/>
<text x="416.5" y="313.1" font-size="12.6" text-anchor="end" fill="#111" textLength="19.0" lengthAdjust="spacingAndGlyphs">0.0</text>
<path d="M418.4,248.7h2.5M671.4,248.7h-2.5" stroke="#999" stroke-width="0.8"/>
<text x="416.5" y="246.8" font-size="8.4" text-anchor="end" fill="#111" textLength="11.6" lengthAdjust="spacingAndGlyphs">−6</text>
<text x="403.5" y="252.5" font-size="13" text-anchor="end" fill="#111" textLength="15.2" lengthAdjust="spacingAndGlyphs">10</text>
<path d="M418.4,188.8h2.5M671.4,188.8h-2.5" stroke="#999" stroke-width="0.8"/>
<text x="416.5" y="186.9" font-size="8.4" text-anchor="end" fill="#111" textLength="11.6" lengthAdjust="spacingAndGlyphs">−6</text>
<text x="403.5" y="192.6" font-size="13" text-anchor="end" fill="#111" textLength="35.2" lengthAdjust="spacingAndGlyphs">2×10</text>
<path d="M418.4,129.0h2.5M671.4,129.0h-2.5" stroke="#999" stroke-width="0.8"/>
<text x="416.5" y="127.1" font-size="8.4" text-anchor="end" fill="#111" textLength="11.6" lengthAdjust="spacingAndGlyphs">−6</text>
<text x="403.5" y="132.8" font-size="13" text-anchor="end" fill="#111" textLength="35.2" lengthAdjust="spacingAndGlyphs">3×10</text>
<path d="M418.4,69.1h2.5M671.4,69.1h-2.5" stroke="#999" stroke-width="0.8"/>
<text x="416.5" y="67.2" font-size="8.4" text-anchor="end" fill="#111" textLength="11.6" lengthAdjust="spacingAndGlyphs">−6</text>
<text x="403.5" y="72.9" font-size="13" text-anchor="end" fill="#111" textLength="35.2" lengthAdjust="spacingAndGlyphs">4×10</text>
<path d="M418.4,9.3h2.5M671.4,9.3h-2.5" stroke="#999" stroke-width="0.8"/>
<text x="416.5" y="7.4" font-size="8.4" text-anchor="end" fill="#111" textLength="11.6" lengthAdjust="spacingAndGlyphs">−6</text>
<text x="403.5" y="13.1" font-size="13" text-anchor="end" fill="#111" textLength="35.2" lengthAdjust="spacingAndGlyphs">5×10</text>
<text x="545.5" y="336.3" font-size="12.8" text-anchor="middle" fill="#111" textLength="42.0" lengthAdjust="spacingAndGlyphs">y (cm)</text>
<text transform="translate(361.0,158.9) rotate(-90)" font-size="13" text-anchor="middle" fill="#111" textLength="79.5" lengthAdjust="spacingAndGlyphs">conc (mol/L)</text>
<text x="475.9" y="24.0" font-size="10.5" text-anchor="start" fill="#111" textLength="32.8" lengthAdjust="spacingAndGlyphs" font-style="italic">matrix</text>
<text x="525.6" y="24.0" font-size="10.5" text-anchor="start" fill="#111" textLength="40.0" lengthAdjust="spacingAndGlyphs" font-style="italic">fracture</text>
<text x="583.2" y="24.0" font-size="10.5" text-anchor="start" fill="#111" textLength="32.8" lengthAdjust="spacingAndGlyphs" font-style="italic">matrix</text>
<text x="418.9" y="294.0" font-size="21" text-anchor="start" fill="#000" textLength="27.0" lengthAdjust="spacingAndGlyphs" font-weight="bold">(b)</text>
<text x="445.7" y="292.8" font-size="13.5" text-anchor="start" fill="#000" textLength="50.6" lengthAdjust="spacingAndGlyphs">Calcium</text>
<rect x="595.9" y="114.7" width="72" height="88.6" fill="#fff" stroke="#333" stroke-width="0.8"/>
<path d="M601.1,120.5H612.4" stroke="#9933ff" stroke-width="0.65" stroke-dasharray="3,2" fill="none"/>
<circle cx="601.1" cy="120.5" r="1.5" fill="#fff" stroke="#9933ff" stroke-width="0.6"/>
<circle cx="612.4" cy="120.5" r="1.5" fill="#fff" stroke="#9933ff" stroke-width="0.6"/>
<text x="620.2" y="123.1" font-size="7.4" text-anchor="start" fill="#222" textLength="36.5" lengthAdjust="spacingAndGlyphs">CF: 5.08 s</text>
<path d="M601.1,131.4H612.4" stroke="#2299f2" stroke-width="0.65" stroke-dasharray="3,2" fill="none"/>
<circle cx="601.1" cy="131.4" r="1.5" fill="#fff" stroke="#2299f2" stroke-width="0.6"/>
<circle cx="612.4" cy="131.4" r="1.5" fill="#fff" stroke="#2299f2" stroke-width="0.6"/>
<text x="620.2" y="134.0" font-size="7.4" text-anchor="start" fill="#222" textLength="41.5" lengthAdjust="spacingAndGlyphs">CF: 10.16 s</text>
<path d="M601.1,142.3H612.4" stroke="#b5f08e" stroke-width="0.65" stroke-dasharray="3,2" fill="none"/>
<circle cx="601.1" cy="142.3" r="1.5" fill="#fff" stroke="#b5f08e" stroke-width="0.6"/>
<circle cx="612.4" cy="142.3" r="1.5" fill="#fff" stroke="#b5f08e" stroke-width="0.6"/>
<text x="620.2" y="144.9" font-size="7.4" text-anchor="start" fill="#222" textLength="41.5" lengthAdjust="spacingAndGlyphs">CF: 20.31 s</text>
<path d="M601.1,153.2H612.4" stroke="#ff1e1e" stroke-width="0.65" stroke-dasharray="3,2" fill="none"/>
<circle cx="601.1" cy="153.2" r="1.5" fill="#fff" stroke="#ff1e1e" stroke-width="0.6"/>
<circle cx="612.4" cy="153.2" r="1.5" fill="#fff" stroke="#ff1e1e" stroke-width="0.6"/>
<text x="620.2" y="155.8" font-size="7.4" text-anchor="start" fill="#222" textLength="41.5" lengthAdjust="spacingAndGlyphs">CF: 30.08 s</text>
<path d="M600.1,164.1H613.4" stroke="#9933ff" stroke-width="0.65" fill="none"/>
<path d="M599.4,162.4l3.4,3.4M599.4,165.8l3.4,-3.4" stroke="#9933ff" stroke-width="0.5"/>
<path d="M610.6999999999999,162.4l3.4,3.4M610.6999999999999,165.8l3.4,-3.4" stroke="#9933ff" stroke-width="0.5"/>
<text x="620.2" y="166.7" font-size="7.4" text-anchor="start" fill="#222" textLength="39.7" lengthAdjust="spacingAndGlyphs">Ch.: 5.08 s</text>
<path d="M600.1,175.0H613.4" stroke="#2299f2" stroke-width="0.65" fill="none"/>
<path d="M599.4,173.3l3.4,3.4M599.4,176.7l3.4,-3.4" stroke="#2299f2" stroke-width="0.5"/>
<path d="M610.6999999999999,173.3l3.4,3.4M610.6999999999999,176.7l3.4,-3.4" stroke="#2299f2" stroke-width="0.5"/>
<text x="620.2" y="177.6" font-size="7.4" text-anchor="start" fill="#222" textLength="44.5" lengthAdjust="spacingAndGlyphs">Ch.: 10.16 s</text>
<path d="M600.1,185.9H613.4" stroke="#b5f08e" stroke-width="0.65" fill="none"/>
<path d="M599.4,184.2l3.4,3.4M599.4,187.6l3.4,-3.4" stroke="#b5f08e" stroke-width="0.5"/>
<path d="M610.6999999999999,184.2l3.4,3.4M610.6999999999999,187.6l3.4,-3.4" stroke="#b5f08e" stroke-width="0.5"/>
<text x="620.2" y="188.5" font-size="7.4" text-anchor="start" fill="#222" textLength="44.5" lengthAdjust="spacingAndGlyphs">Ch.: 20.31 s</text>
<path d="M600.1,196.8H613.4" stroke="#ff1e1e" stroke-width="0.65" fill="none"/>
<path d="M599.4,195.1l3.4,3.4M599.4,198.5l3.4,-3.4" stroke="#ff1e1e" stroke-width="0.5"/>
<path d="M610.6999999999999,195.1l3.4,3.4M610.6999999999999,198.5l3.4,-3.4" stroke="#ff1e1e" stroke-width="0.5"/>
<text x="620.2" y="199.4" font-size="7.4" text-anchor="start" fill="#222" textLength="44.5" lengthAdjust="spacingAndGlyphs">Ch.: 30.08 s</text>
</g>
<g>
<line x1="173.4" x2="173.4" y1="354.4" y2="654.1" stroke="#6db56d" stroke-width="1" stroke-dasharray="4,3"/>
<line x1="236.7" x2="236.7" y1="354.4" y2="654.1" stroke="#6db56d" stroke-width="1" stroke-dasharray="4,3"/>
<rect x="78.5" y="354.4" width="253.2" height="299.70000000000005" fill="none" stroke="#999" stroke-width="1"/>
<clipPath id="clipc"><rect x="78.5" y="352.4" width="255.2" height="303.70000000000005"/></clipPath>
<g clip-path="url(#clipc)" fill="none">
<path d="M78.5,512L156.7,512L159.5,512.3L162.7,513L164.6,514.1L166.5,515.9L168.7,518.8L170,521.3L171.2,526.2L176,548.4L177.2,552.1L180.1,558.3L181,561.3L182.3,566.5L185.2,582.4L189,614.8L189.9,621.5L191.2,628.9L193.1,637.5L194,640.3L195,641.5L196.6,643L197.5,643.4L198.1,643.5L212.7,643.4L213.6,643L214.6,642.2L215.9,640.7L216.5,639.6L217.4,636.3L218.7,630.5L220.3,621.5L221.2,614.8L225,582.4L226.6,572.9L228.2,565.1L230.1,558.3L233,552.1L234.2,548.4L239,526.2L240.2,521.3L240.9,519.8L241.8,518.3L244.3,515.2L246.2,513.7L247.8,512.9L251,512.3L253.8,512L331.7,512" stroke="#9933ff" stroke-width="0.7"/>
<path d="M78.5,512L157.3,512L160.5,512.3L163.6,513.1L165.2,514L167.1,515.8L169.3,518.8L170.6,521.3L171.6,524.9L176.6,548.8L177.6,551.6L180.7,558.8L182.6,566.1L185.5,582.2L189.9,619.7L191.5,629.3L193.1,636.7L194,639.9L194.7,640.9L196.6,642.9L197.5,643.4L198.1,643.5L212.7,643.4L213.6,642.9L214.9,641.7L215.9,640.4L216.5,639L218.4,630.9L220,621.8L220.9,615.1L224.7,582.2L227.6,566.1L229.5,558.8L232.6,551.6L233.6,548.8L238.6,524.9L239.6,521.3L240.2,519.8L241.2,518.3L243.7,515.1L245.3,513.8L246.9,513L250,512.3L252.9,512L331.7,512" stroke="#9933ff" stroke-width="0.6" stroke-dasharray="3,2" opacity="0.9"/>
<polyline points="78.5,512 81,512 83.6,512 86.1,512 88.6,512 91.2,512 93.7,512 96.2,512 98.8,512 101.3,512 103.8,512 106.4,512 108.9,512 111.4,512 113.9,512 116.5,512 119,512 121.5,512 124.1,512 126.6,512 129.1,512 131.7,512 134.2,512 136.7,512 139.3,512 141.8,512 144.3,512 146.9,512 149.4,512 151.9,512 154.5,512 157,512 159.5,512.3 162.1,512.8 164.6,514.1 167.1,516.6 169.7,520.4 172.2,530.8 174.7,542.8 177.2,552.1 179.8,557.4 182.3,566.5 184.8,580.3 187.4,600.6 189.9,621.5 192.4,634.9 195,641.5 197.5,643.4 200,643.5 202.6,643.5 205.1,643.5 207.6,643.5 210.2,643.5 212.7,643.4 215.2,641.5 217.8,634.9 220.3,621.5 222.8,600.6 225.4,580.3 227.9,566.5 230.4,557.4 233,552.1 235.5,542.8 238,530.8 240.5,520.4 243.1,516.6 245.6,514.1 248.1,512.8 250.7,512.3 253.2,512 255.7,512 258.3,512 260.8,512 263.3,512 265.9,512 268.4,512 270.9,512 273.5,512 276,512 278.5,512 281.1,512 283.6,512 286.1,512 288.7,512 291.2,512 293.7,512 296.3,512 298.8,512 301.3,512 303.8,512 306.4,512 308.9,512 311.4,512 314,512 316.5,512 319,512 321.6,512 324.1,512 326.6,512 329.2,512 331.7,512" stroke="none" marker-start="url(#mxp)" marker-mid="url(#mxp)" marker-end="url(#mxp)"/>
<polyline points="79.8,512 82.3,512 84.8,512 87.4,512 89.9,512 92.4,512 95,512 97.5,512 100,512 102.6,512 105.1,512 107.6,512 110.2,512 112.7,512 115.2,512 117.7,512 120.3,512 122.8,512 125.3,512 127.9,512 130.4,512 132.9,512 135.5,512 138,512 140.5,512 143.1,512 145.6,512 148.1,512 150.7,512 153.2,512 155.7,512 158.3,512 160.8,512.4 163.3,513 165.9,514.5 168.4,517.4 170.9,522.4 173.4,534 176,546.2 178.5,553.8 181,559.8 183.6,570.9 186.1,587 188.6,609.5 191.2,627.6 193.7,639 196.2,642.7 198.8,643.5 201.3,643.5 203.8,643.5 206.4,643.5 208.9,643.5 211.4,643.5 214,642.7 216.5,639 219,627.6 221.6,609.5 224.1,587 226.6,570.9 229.2,559.8 231.7,553.8 234.2,546.2 236.7,534 239.3,522.4 241.8,517.4 244.3,514.5 246.9,513 249.4,512.4 251.9,512 254.5,512 257,512 259.5,512 262.1,512 264.6,512 267.1,512 269.7,512 272.2,512 274.7,512 277.3,512 279.8,512 282.3,512 284.9,512 287.4,512 289.9,512 292.5,512 295,512 297.5,512 300.1,512 302.6,512 305.1,512 307.6,512 310.2,512 312.7,512 315.2,512 317.8,512 320.3,512 322.8,512 325.4,512 327.9,512 330.4,512" stroke="none" marker-start="url(#mop)" marker-mid="url(#mop)" marker-end="url(#mop)"/>
<path d="M78.5,474.3L148.1,474.4L153.5,474.9L157.6,475.9L159.8,476.7L162.1,477.9L163.6,479.6L165.9,484L167.1,487.2L167.8,489.4L169.7,498.1L171.2,508.1L173.4,527.7L177.6,574.1L182.9,620.9L184.2,629.4L185.8,636.8L187.1,640.1L188,642L188.6,642.9L189.3,643.2L192.8,643.5L217.8,643.5L220.9,643.2L221.6,642.9L222.5,641.5L224.4,636.8L225.7,631.1L226.9,623.4L232.3,577L233.6,564.6L236.7,527.7L238,515.7L239.3,505.9L240.9,496.4L242.8,488.2L245,482.6L246.2,480.1L247.2,478.8L248.1,477.9L249.4,477.2L253.5,475.6L257,474.8L262.4,474.3L331.7,474.3" stroke="#2299f2" stroke-width="0.7"/>
<path d="M78.5,474.3L149.1,474.4L154.5,474.9L158.6,475.9L162.7,477.8L163.3,478.3L164.3,479.5L166.5,483.9L167.8,487.1L168.4,489.3L170.3,498.1L171.9,508.3L174.1,528.5L177.9,572.5L183.3,620.2L184.8,630.9L186.1,636.7L187.4,640.1L188.3,642L189.3,643.1L193.1,643.5L217.4,643.5L220.6,643.2L221.2,642.9L221.9,642L223.8,637.7L225,632.6L226.6,622.8L231.7,578.3L233,566L236.1,528.5L237.4,516.1L238.6,506.1L240.2,496.4L242.1,488.1L244.3,482.4L245.6,480L246.6,478.6L247.2,478L248.8,477.1L252.6,475.6L256.1,474.9L261.4,474.3L331.7,474.3" stroke="#2299f2" stroke-width="0.6" stroke-dasharray="3,2" opacity="0.9"/>
<polyline points="78.5,474.3 81,474.3 83.6,474.3 86.1,474.3 88.6,474.3 91.2,474.3 93.7,474.3 96.2,474.3 98.8,474.3 101.3,474.3 103.8,474.3 106.4,474.3 108.9,474.3 111.4,474.3 113.9,474.3 116.5,474.3 119,474.3 121.5,474.3 124.1,474.3 126.6,474.3 129.1,474.3 131.7,474.3 134.2,474.3 136.7,474.3 139.3,474.3 141.8,474.3 144.3,474.3 146.9,474.3 149.4,474.5 151.9,474.7 154.5,475.1 157,475.7 159.5,476.6 162.1,477.9 164.6,481.3 167.1,487.2 169.7,498.1 172.2,515.7 174.7,542 177.2,571.1 179.8,593.5 182.3,615.4 184.8,632.8 187.4,640.8 189.9,643.3 192.4,643.5 195,643.5 197.5,643.5 200,643.5 202.6,643.5 205.1,643.5 207.6,643.5 210.2,643.5 212.7,643.5 215.2,643.5 217.8,643.5 220.3,643.3 222.8,640.8 225.4,632.8 227.9,615.4 230.4,593.5 233,571.1 235.5,542 238,515.7 240.5,498.1 243.1,487.2 245.6,481.3 248.1,477.9 250.7,476.6 253.2,475.7 255.7,475.1 258.3,474.7 260.8,474.5 263.3,474.3 265.9,474.3 268.4,474.3 270.9,474.3 273.5,474.3 276,474.3 278.5,474.3 281.1,474.3 283.6,474.3 286.1,474.3 288.7,474.3 291.2,474.3 293.7,474.3 296.3,474.3 298.8,474.3 301.3,474.3 303.8,474.3 306.4,474.3 308.9,474.3 311.4,474.3 314,474.3 316.5,474.3 319,474.3 321.6,474.3 324.1,474.3 326.6,474.3 329.2,474.3 331.7,474.3" stroke="none" marker-start="url(#mxb)" marker-mid="url(#mxb)" marker-end="url(#mxb)"/>
<polyline points="79.8,474.3 82.3,474.3 84.8,474.3 87.4,474.3 89.9,474.3 92.4,474.3 95,474.3 97.5,474.3 100,474.3 102.6,474.3 105.1,474.3 107.6,474.3 110.2,474.3 112.7,474.3 115.2,474.3 117.7,474.3 120.3,474.3 122.8,474.3 125.3,474.3 127.9,474.3 130.4,474.3 132.9,474.3 135.5,474.3 138,474.3 140.5,474.3 143.1,474.3 145.6,474.3 148.1,474.3 150.7,474.5 153.2,474.7 155.7,475.1 158.3,475.8 160.8,476.8 163.3,478.3 165.9,482.4 168.4,489.3 170.9,501.8 173.4,522.1 176,550.7 178.5,578.3 181,600.6 183.6,622.8 186.1,636.7 188.6,642.5 191.2,643.4 193.7,643.5 196.2,643.5 198.8,643.5 201.3,643.5 203.8,643.5 206.4,643.5 208.9,643.5 211.4,643.5 214,643.5 216.5,643.5 219,643.4 221.6,642.5 224.1,636.7 226.6,622.8 229.2,600.6 231.7,578.3 234.2,550.7 236.7,522.1 239.3,501.8 241.8,489.3 244.3,482.4 246.9,478.3 249.4,476.8 251.9,475.8 254.5,475.1 257,474.7 259.5,474.5 262.1,474.3 264.6,474.3 267.1,474.3 269.7,474.3 272.2,474.3 274.7,474.3 277.3,474.3 279.8,474.3 282.3,474.3 284.9,474.3 287.4,474.3 289.9,474.3 292.5,474.3 295,474.3 297.5,474.3 300.1,474.3 302.6,474.3 305.1,474.3 307.6,474.3 310.2,474.3 312.7,474.3 315.2,474.3 317.8,474.3 320.3,474.3 322.8,474.3 325.4,474.3 327.9,474.3 330.4,474.3" stroke="none" marker-start="url(#mob)" marker-mid="url(#mob)" marker-end="url(#mob)"/>
<path d="M78.5,414.3L141.2,414.4L148.4,415.8L151,416.5L153.5,417.5L157.3,419.7L158.3,420.8L159.5,423L161.1,426.5L163.3,432.3L165.2,439.3L168.1,453.4L170.3,468.7L172.2,487.5L172.8,497.1L173.4,512.1L174.1,519.3L175.7,531.4L178.2,567.5L181.4,600.5L184.2,624.5L186.1,635.1L186.7,637.4L188,640.1L189.3,642.1L190.2,643L191.8,643.4L194,643.5L216.8,643.5L219.7,643.1L220.6,642.5L221.6,641.2L223.1,638.1L223.8,636.3L225,630.2L226.3,622.3L228.2,606.4L229.8,591L232.6,559.8L234.5,531.4L236.4,516.3L238,487.5L240.2,466.2L242.8,449.8L245.6,436.7L246.6,433.3L248.1,428.9L249.7,425L251.3,421.8L252.3,420.4L253.2,419.5L255.4,418.1L257.6,417.1L262.4,415.6L269.3,414.4L331.7,414.3" stroke="#b5f08e" stroke-width="0.7"/>
<path d="M78.5,414.3L142.4,414.4L149.7,415.8L152.2,416.6L154.8,417.6L158.3,419.8L159.2,420.9L160.5,423.1L162.1,426.7L164,431.8L165.9,438.6L168.7,452.8L170.9,468.3L172.8,487.3L173.4,497.1L174.1,512.3L174.7,519.5L176.3,532L177.9,556.7L178.8,568.7L182,602.1L183.6,616.4L184.8,626L186.7,636.1L187.4,638L188.3,640.1L189.6,642.1L190.5,643L191.8,643.3L194,643.5L216.5,643.5L219.3,643.1L220.3,642.5L221.2,641.2L222.8,638L223.5,636.1L224.7,629.8L226,621.6L227.9,605.1L229.5,589.2L232,561L233.9,532L235.8,516.5L237.4,487.3L239.6,465.7L241.8,451L244.7,437.3L245.9,432.7L247.5,428.3L249.1,424.4L250.7,421.4L252.3,419.5L254.5,418.1L257,416.9L261.4,415.6L268.1,414.4L331.7,414.3" stroke="#b5f08e" stroke-width="0.6" stroke-dasharray="3,2" opacity="0.9"/>
<polyline points="78.5,414.3 81,414.3 83.6,414.3 86.1,414.3 88.6,414.3 91.2,414.3 93.7,414.3 96.2,414.3 98.8,414.3 101.3,414.3 103.8,414.3 106.4,414.3 108.9,414.3 111.4,414.3 113.9,414.3 116.5,414.3 119,414.3 121.5,414.3 124.1,414.3 126.6,414.3 129.1,414.3 131.7,414.3 134.2,414.3 136.7,414.3 139.3,414.3 141.8,414.5 144.3,414.9 146.9,415.4 149.4,416 151.9,416.8 154.5,418 157,419.5 159.5,423 162.1,428.9 164.6,436.7 167.1,448.2 169.7,463.8 172.2,487.5 174.7,524 177.2,555.4 179.8,584.4 182.3,609.2 184.8,628.4 187.4,638.8 189.9,642.8 192.4,643.4 195,643.5 197.5,643.5 200,643.5 202.6,643.5 205.1,643.5 207.6,643.5 210.2,643.5 212.7,643.5 215.2,643.5 217.8,643.4 220.3,642.8 222.8,638.8 225.4,628.4 227.9,609.2 230.4,584.4 233,555.4 235.5,524 238,487.5 240.5,463.8 243.1,448.2 245.6,436.7 248.1,428.9 250.7,423 253.2,419.5 255.7,418 258.3,416.8 260.8,416 263.3,415.4 265.9,414.9 268.4,414.5 270.9,414.3 273.5,414.3 276,414.3 278.5,414.3 281.1,414.3 283.6,414.3 286.1,414.3 288.7,414.3 291.2,414.3 293.7,414.3 296.3,414.3 298.8,414.3 301.3,414.3 303.8,414.3 306.4,414.3 308.9,414.3 311.4,414.3 314,414.3 316.5,414.3 319,414.3 321.6,414.3 324.1,414.3 326.6,414.3 329.2,414.3 331.7,414.3" stroke="none" marker-start="url(#mxg)" marker-mid="url(#mxg)" marker-end="url(#mxg)"/>
<polyline points="79.8,414.3 82.3,414.3 84.8,414.3 87.4,414.3 89.9,414.3 92.4,414.3 95,414.3 97.5,414.3 100,414.3 102.6,414.3 105.1,414.3 107.6,414.3 110.2,414.3 112.7,414.3 115.2,414.3 117.7,414.3 120.3,414.3 122.8,414.3 125.3,414.3 127.9,414.3 130.4,414.3 132.9,414.3 135.5,414.3 138,414.3 140.5,414.3 143.1,414.5 145.6,414.9 148.1,415.4 150.7,416.1 153.2,416.9 155.7,418.1 158.3,419.8 160.8,423.7 163.3,430 165.9,438.6 168.4,451 170.9,468.3 173.4,497.1 176,528.9 178.5,565 181,592.6 183.6,616.4 186.1,633.3 188.6,640.7 191.2,643.2 193.7,643.5 196.2,643.5 198.8,643.5 201.3,643.5 203.8,643.5 206.4,643.5 208.9,643.5 211.4,643.5 214,643.5 216.5,643.5 219,643.2 221.6,640.7 224.1,633.3 226.6,616.4 229.2,592.6 231.7,565 234.2,528.9 236.7,497.1 239.3,468.3 241.8,451 244.3,438.6 246.9,430 249.4,423.7 251.9,419.8 254.5,418.1 257,416.9 259.5,416.1 262.1,415.4 264.6,414.9 267.1,414.5 269.7,414.3 272.2,414.3 274.7,414.3 277.3,414.3 279.8,414.3 282.3,414.3 284.9,414.3 287.4,414.3 289.9,414.3 292.5,414.3 295,414.3 297.5,414.3 300.1,414.3 302.6,414.3 305.1,414.3 307.6,414.3 310.2,414.3 312.7,414.3 315.2,414.3 317.8,414.3 320.3,414.3 322.8,414.3 325.4,414.3 327.9,414.3 330.4,414.3" stroke="none" marker-start="url(#mog)" marker-mid="url(#mog)" marker-end="url(#mog)"/>
<path d="M78.5,366.8L135.5,366.8L138.3,367.1L142.1,368.1L144,368.9L146.5,370.4L150.7,373.4L152.6,375.1L154.5,377.3L155.7,379.3L157,382.1L161.7,395.2L164.9,406.4L166.2,412L167.4,418.9L169.7,434.7L170.9,447.2L171.9,459.7L173.8,487.5L175,511.6L176.9,533.5L178.8,563.3L182.3,600L185.2,624.2L187.1,634.9L187.7,637.2L189,640L190.2,642.1L191.2,643L192.8,643.3L195,643.5L215.5,643.5L218.7,643.1L220,642.1L221.2,640L222.5,637.2L223.1,634.9L225,624.2L226.3,614.3L228.2,596.9L231.1,567L232,554.5L233.3,533.5L235.2,511.6L236.7,482.4L238.6,455.4L239.6,443.8L240.9,432.1L243.1,417.1L244.3,410.5L245.6,405.1L247.2,399.3L249.1,393.3L252.3,384.4L254.2,380L255.4,377.7L257,375.8L258.9,373.9L261.4,372L264.6,369.8L266.8,368.6L269.7,367.6L272.5,367L274.7,366.8L331.7,366.8" stroke="#ff1e1e" stroke-width="0.7"/>
<path d="M78.5,366.8L136.7,366.8L139.6,367.1L143.4,368.1L145,368.8L147.5,370.3L151.6,373.3L153.5,375L155.4,377.2L156.7,379.3L157.9,382.1L162.7,395.5L165.9,407.1L168.1,418.3L170.3,434.2L171.6,446.8L172.5,459.5L174.4,487.9L175.7,512.2L177.2,530.2L179.5,564.7L182.9,601.9L185.5,623.7L187.4,634.7L188,637.1L189,639.4L190.2,641.6L191.5,643L192.8,643.3L195,643.5L215.5,643.5L218.4,643.1L219.7,642.1L220.9,640L222.2,637.1L222.8,634.7L224.4,625.8L225.7,616.2L227.6,598.7L230.4,568.5L231.4,556.2L233,530.2L234.5,512.2L236.1,482.6L238,455L239,443.3L240.2,431.5L242.4,416.4L243.7,409.9L245,404.5L248.1,393.6L251.3,384.5L253.2,379.9L254.5,377.7L256.1,375.7L258,373.8L260.5,371.9L263.7,369.7L265.6,368.6L268.4,367.6L271.2,367L273.5,366.8L331.7,366.8" stroke="#ff1e1e" stroke-width="0.6" stroke-dasharray="3,2" opacity="0.9"/>
<polyline points="78.5,366.8 81,366.8 83.6,366.8 86.1,366.8 88.6,366.8 91.2,366.8 93.7,366.8 96.2,366.8 98.8,366.8 101.3,366.8 103.8,366.8 106.4,366.8 108.9,366.8 111.4,366.8 113.9,366.8 116.5,366.8 119,366.8 121.5,366.8 124.1,366.8 126.6,366.8 129.1,366.8 131.7,366.8 134.2,366.8 136.7,366.9 139.3,367.3 141.8,368 144.3,369 146.9,370.6 149.4,372.4 151.9,374.5 154.5,377.3 157,382.1 159.5,388.8 162.1,396.2 164.6,405.1 167.1,417.1 169.7,434.7 172.2,464.2 174.7,506.8 177.2,538.4 179.8,573.9 182.3,600 184.8,622 187.4,636.2 189.9,641.6 192.4,643.3 195,643.5 197.5,643.5 200,643.5 202.6,643.5 205.1,643.5 207.6,643.5 210.2,643.5 212.7,643.5 215.2,643.5 217.8,643.3 220.3,641.6 222.8,636.2 225.4,622 227.9,600 230.4,573.9 233,538.4 235.5,506.8 238,464.2 240.5,434.7 243.1,417.1 245.6,405.1 248.1,396.2 250.7,388.8 253.2,382.1 255.7,377.3 258.3,374.5 260.8,372.4 263.3,370.6 265.9,369 268.4,368 270.9,367.3 273.5,366.9 276,366.8 278.5,366.8 281.1,366.8 283.6,366.8 286.1,366.8 288.7,366.8 291.2,366.8 293.7,366.8 296.3,366.8 298.8,366.8 301.3,366.8 303.8,366.8 306.4,366.8 308.9,366.8 311.4,366.8 314,366.8 316.5,366.8 319,366.8 321.6,366.8 324.1,366.8 326.6,366.8 329.2,366.8 331.7,366.8" stroke="none" marker-start="url(#mxr)" marker-mid="url(#mxr)" marker-end="url(#mxr)"/>
<polyline points="79.8,366.8 82.3,366.8 84.8,366.8 87.4,366.8 89.9,366.8 92.4,366.8 95,366.8 97.5,366.8 100,366.8 102.6,366.8 105.1,366.8 107.6,366.8 110.2,366.8 112.7,366.8 115.2,366.8 117.7,366.8 120.3,366.8 122.8,366.8 125.3,366.8 127.9,366.8 130.4,366.8 132.9,366.8 135.5,366.8 138,366.9 140.5,367.3 143.1,368 145.6,369.1 148.1,370.7 150.7,372.6 153.2,374.7 155.7,377.7 158.3,382.9 160.8,389.9 163.3,397.6 165.9,407.1 168.4,420.3 170.9,440.1 173.4,473.1 176,516.2 178.5,551 181,582.1 183.6,607.7 186.1,627.7 188.6,638.7 191.2,642.8 193.7,643.4 196.2,643.5 198.8,643.5 201.3,643.5 203.8,643.5 206.4,643.5 208.9,643.5 211.4,643.5 214,643.5 216.5,643.4 219,642.8 221.6,638.7 224.1,627.7 226.6,607.7 229.2,582.1 231.7,551 234.2,516.2 236.7,473.1 239.3,440.1 241.8,420.3 244.3,407.1 246.9,397.6 249.4,389.9 251.9,382.9 254.5,377.7 257,374.7 259.5,372.6 262.1,370.7 264.6,369.1 267.1,368 269.7,367.3 272.2,366.9 274.7,366.8 277.3,366.8 279.8,366.8 282.3,366.8 284.9,366.8 287.4,366.8 289.9,366.8 292.5,366.8 295,366.8 297.5,366.8 300.1,366.8 302.6,366.8 305.1,366.8 307.6,366.8 310.2,366.8 312.7,366.8 315.2,366.8 317.8,366.8 320.3,366.8 322.8,366.8 325.4,366.8 327.9,366.8 330.4,366.8" stroke="none" marker-start="url(#mor)" marker-mid="url(#mor)" marker-end="url(#mor)"/>
</g>
<path d="M78.5,654.1v-2.5M78.5,354.4v2.5" stroke="#999" stroke-width="0.8"/>
<text x="78.5" y="666.6" font-size="12.6" text-anchor="middle" fill="#111" textLength="19.0" lengthAdjust="spacingAndGlyphs">0.0</text>
<path d="M141.8,654.1v-2.5M141.8,354.4v2.5" stroke="#999" stroke-width="0.8"/>
<text x="141.8" y="666.6" font-size="12.6" text-anchor="middle" fill="#111" textLength="19.0" lengthAdjust="spacingAndGlyphs">0.1</text>
<path d="M205.1,654.1v-2.5M205.1,354.4v2.5" stroke="#999" stroke-width="0.8"/>
<text x="205.1" y="666.6" font-size="12.6" text-anchor="middle" fill="#111" textLength="19.0" lengthAdjust="spacingAndGlyphs">0.2</text>
<path d="M268.4,654.1v-2.5M268.4,354.4v2.5" stroke="#999" stroke-width="0.8"/>
<text x="268.4" y="666.6" font-size="12.6" text-anchor="middle" fill="#111" textLength="19.0" lengthAdjust="spacingAndGlyphs">0.3</text>
<path d="M78.5,654.1h2.5M331.7,654.1h-2.5" stroke="#999" stroke-width="0.8"/>
<text x="76.6" y="652.2" font-size="8.4" text-anchor="end" fill="#111" textLength="11.6" lengthAdjust="spacingAndGlyphs">−5</text>
<text x="63.6" y="657.9" font-size="13" text-anchor="end" fill="#111" textLength="46.2" lengthAdjust="spacingAndGlyphs">1.1×10</text>
<path d="M78.5,611.3h2.5M331.7,611.3h-2.5" stroke="#999" stroke-width="0.8"/>
<text x="76.6" y="609.4" font-size="8.4" text-anchor="end" fill="#111" textLength="11.6" lengthAdjust="spacingAndGlyphs">−5</text>
<text x="63.6" y="615.1" font-size="13" text-anchor="end" fill="#111" textLength="46.2" lengthAdjust="spacingAndGlyphs">1.2×10</text>
<path d="M78.5,568.5h2.5M331.7,568.5h-2.5" stroke="#999" stroke-width="0.8"/>
<text x="76.6" y="566.6" font-size="8.4" text-anchor="end" fill="#111" textLength="11.6" lengthAdjust="spacingAndGlyphs">−5</text>
<text x="63.6" y="572.3" font-size="13" text-anchor="end" fill="#111" textLength="46.2" lengthAdjust="spacingAndGlyphs">1.3×10</text>
<path d="M78.5,525.7h2.5M331.7,525.7h-2.5" stroke="#999" stroke-width="0.8"/>
<text x="76.6" y="523.8" font-size="8.4" text-anchor="end" fill="#111" textLength="11.6" lengthAdjust="spacingAndGlyphs">−5</text>
<text x="63.6" y="529.5" font-size="13" text-anchor="end" fill="#111" textLength="46.2" lengthAdjust="spacingAndGlyphs">1.4×10</text>
<path d="M78.5,482.8h2.5M331.7,482.8h-2.5" stroke="#999" stroke-width="0.8"/>
<text x="76.6" y="480.9" font-size="8.4" text-anchor="end" fill="#111" textLength="11.6" lengthAdjust="spacingAndGlyphs">−5</text>
<text x="63.6" y="486.6" font-size="13" text-anchor="end" fill="#111" textLength="46.2" lengthAdjust="spacingAndGlyphs">1.5×10</text>
<path d="M78.5,440.0h2.5M331.7,440.0h-2.5" stroke="#999" stroke-width="0.8"/>
<text x="76.6" y="438.1" font-size="8.4" text-anchor="end" fill="#111" textLength="11.6" lengthAdjust="spacingAndGlyphs">−5</text>
<text x="63.6" y="443.8" font-size="13" text-anchor="end" fill="#111" textLength="46.2" lengthAdjust="spacingAndGlyphs">1.6×10</text>
<path d="M78.5,397.2h2.5M331.7,397.2h-2.5" stroke="#999" stroke-width="0.8"/>
<text x="76.6" y="395.3" font-size="8.4" text-anchor="end" fill="#111" textLength="11.6" lengthAdjust="spacingAndGlyphs">−5</text>
<text x="63.6" y="401.0" font-size="13" text-anchor="end" fill="#111" textLength="46.2" lengthAdjust="spacingAndGlyphs">1.7×10</text>
<path d="M78.5,354.4h2.5M331.7,354.4h-2.5" stroke="#999" stroke-width="0.8"/>
<text x="76.6" y="352.5" font-size="8.4" text-anchor="end" fill="#111" textLength="11.6" lengthAdjust="spacingAndGlyphs">−5</text>
<text x="63.6" y="358.2" font-size="13" text-anchor="end" fill="#111" textLength="46.2" lengthAdjust="spacingAndGlyphs">1.8×10</text>
<text x="205.7" y="681.1" font-size="12.8" text-anchor="middle" fill="#111" textLength="42.0" lengthAdjust="spacingAndGlyphs">y (cm)</text>
<text transform="translate(9.6,504.2) rotate(-90)" font-size="13" text-anchor="middle" fill="#111" textLength="79.5" lengthAdjust="spacingAndGlyphs">conc (mol/L)</text>
<text x="136.0" y="369.0" font-size="10.5" text-anchor="start" fill="#111" textLength="32.8" lengthAdjust="spacingAndGlyphs" font-style="italic">matrix</text>
<text x="185.7" y="369.0" font-size="10.5" text-anchor="start" fill="#111" textLength="40.0" lengthAdjust="spacingAndGlyphs" font-style="italic">fracture</text>
<text x="243.3" y="369.0" font-size="10.5" text-anchor="start" fill="#111" textLength="32.8" lengthAdjust="spacingAndGlyphs" font-style="italic">matrix</text>
<text x="77.2" y="634.3" font-size="21" text-anchor="start" fill="#000" textLength="26.6" lengthAdjust="spacingAndGlyphs" font-weight="bold">(c)</text>
<text x="103.7" y="633.1" font-size="13.5" text-anchor="start" fill="#000" textLength="44.5" lengthAdjust="spacingAndGlyphs">Carbon</text>
<rect x="256.4" y="459.7" width="72" height="88.6" fill="#fff" stroke="#333" stroke-width="0.8"/>
<path d="M261.59999999999997,465.5H272.9" stroke="#9933ff" stroke-width="0.65" stroke-dasharray="3,2" fill="none"/>
<circle cx="261.59999999999997" cy="465.5" r="1.5" fill="#fff" stroke="#9933ff" stroke-width="0.6"/>
<circle cx="272.9" cy="465.5" r="1.5" fill="#fff" stroke="#9933ff" stroke-width="0.6"/>
<text x="280.7" y="468.1" font-size="7.4" text-anchor="start" fill="#222" textLength="36.5" lengthAdjust="spacingAndGlyphs">CF: 5.08 s</text>
<path d="M261.59999999999997,476.4H272.9" stroke="#2299f2" stroke-width="0.65" stroke-dasharray="3,2" fill="none"/>
<circle cx="261.59999999999997" cy="476.4" r="1.5" fill="#fff" stroke="#2299f2" stroke-width="0.6"/>
<circle cx="272.9" cy="476.4" r="1.5" fill="#fff" stroke="#2299f2" stroke-width="0.6"/>
<text x="280.7" y="479.0" font-size="7.4" text-anchor="start" fill="#222" textLength="41.5" lengthAdjust="spacingAndGlyphs">CF: 10.16 s</text>
<path d="M261.59999999999997,487.3H272.9" stroke="#b5f08e" stroke-width="0.65" stroke-dasharray="3,2" fill="none"/>
<circle cx="261.59999999999997" cy="487.3" r="1.5" fill="#fff" stroke="#b5f08e" stroke-width="0.6"/>
<circle cx="272.9" cy="487.3" r="1.5" fill="#fff" stroke="#b5f08e" stroke-width="0.6"/>
<text x="280.7" y="489.9" font-size="7.4" text-anchor="start" fill="#222" textLength="41.5" lengthAdjust="spacingAndGlyphs">CF: 20.31 s</text>
<path d="M261.59999999999997,498.2H272.9" stroke="#ff1e1e" stroke-width="0.65" stroke-dasharray="3,2" fill="none"/>
<circle cx="261.59999999999997" cy="498.2" r="1.5" fill="#fff" stroke="#ff1e1e" stroke-width="0.6"/>
<circle cx="272.9" cy="498.2" r="1.5" fill="#fff" stroke="#ff1e1e" stroke-width="0.6"/>
<text x="280.7" y="500.8" font-size="7.4" text-anchor="start" fill="#222" textLength="41.5" lengthAdjust="spacingAndGlyphs">CF: 30.08 s</text>
<path d="M260.59999999999997,509.1H273.9" stroke="#9933ff" stroke-width="0.65" fill="none"/>
<path d="M259.9,507.4l3.4,3.4M259.9,510.8l3.4,-3.4" stroke="#9933ff" stroke-width="0.5"/>
<path d="M271.2,507.4l3.4,3.4M271.2,510.8l3.4,-3.4" stroke="#9933ff" stroke-width="0.5"/>
<text x="280.7" y="511.7" font-size="7.4" text-anchor="start" fill="#222" textLength="39.7" lengthAdjust="spacingAndGlyphs">Ch.: 5.08 s</text>
<path d="M260.59999999999997,520.0H273.9" stroke="#2299f2" stroke-width="0.65" fill="none"/>
<path d="M259.9,518.3l3.4,3.4M259.9,521.7l3.4,-3.4" stroke="#2299f2" stroke-width="0.5"/>
<path d="M271.2,518.3l3.4,3.4M271.2,521.7l3.4,-3.4" stroke="#2299f2" stroke-width="0.5"/>
<text x="280.7" y="522.6" font-size="7.4" text-anchor="start" fill="#222" textLength="44.5" lengthAdjust="spacingAndGlyphs">Ch.: 10.16 s</text>
<path d="M260.59999999999997,530.9H273.9" stroke="#b5f08e" stroke-width="0.65" fill="none"/>
<path d="M259.9,529.2l3.4,3.4M259.9,532.6l3.4,-3.4" stroke="#b5f08e" stroke-width="0.5"/>
<path d="M271.2,529.2l3.4,3.4M271.2,532.6l3.4,-3.4" stroke="#b5f08e" stroke-width="0.5"/>
<text x="280.7" y="533.5" font-size="7.4" text-anchor="start" fill="#222" textLength="44.5" lengthAdjust="spacingAndGlyphs">Ch.: 20.31 s</text>
<path d="M260.59999999999997,541.8H273.9" stroke="#ff1e1e" stroke-width="0.65" fill="none"/>
<path d="M259.9,540.1l3.4,3.4M259.9,543.5l3.4,-3.4" stroke="#ff1e1e" stroke-width="0.5"/>
<path d="M271.2,540.1l3.4,3.4M271.2,543.5l3.4,-3.4" stroke="#ff1e1e" stroke-width="0.5"/>
<text x="280.7" y="544.4" font-size="7.4" text-anchor="start" fill="#222" textLength="44.5" lengthAdjust="spacingAndGlyphs">Ch.: 30.08 s</text>
</g>
<g shape-rendering="crispEdges">
<rect x="404.0" y="383" width="266.4" height="1" fill="#ff2b00"/>
<rect x="404.0" y="384" width="266.4" height="1" fill="#ff2b00"/>
<rect x="404.0" y="385" width="266.4" height="1" fill="#ff2b00"/>
<rect x="404.0" y="386" width="266.4" height="1" fill="#ff2b00"/>
<rect x="404.0" y="387" width="266.4" height="1" fill="#ff2b00"/>
<rect x="404.0" y="388" width="266.4" height="1" fill="#ff2b00"/>
<rect x="404.0" y="389" width="266.4" height="1" fill="#ff2b00"/>
<rect x="404.0" y="390" width="266.4" height="1" fill="#ff2b00"/>
<rect x="404.0" y="391" width="266.4" height="1" fill="#ff2b00"/>
<rect x="404.0" y="392" width="266.4" height="1" fill="#ff2b00"/>
<rect x="404.0" y="393" width="266.4" height="1" fill="#ff2b00"/>
<rect x="404.0" y="394" width="266.4" height="1" fill="#ff2b00"/>
<rect x="404.0" y="395" width="266.4" height="1" fill="#ff2b00"/>
<rect x="404.0" y="396" width="266.4" height="1" fill="#ff2b00"/>
<rect x="404.0" y="397" width="266.4" height="1" fill="#ff2b00"/>
<rect x="404.0" y="398" width="266.4" height="1" fill="#ff2b00"/>
<rect x="404.0" y="399" width="266.4" height="1" fill="#ff2b00"/>
<rect x="404.0" y="400" width="266.4" height="1" fill="#ff2b00"/>
<rect x="404.0" y="401" width="266.4" height="1" fill="#ff2b00"/>
<rect x="404.0" y="402" width="266.4" height="1" fill="#ff2b00"/>
<rect x="404.0" y="403" width="266.4" height="1" fill="#ff2b00"/>
<rect x="404.0" y="404" width="266.4" height="1" fill="#ff2b00"/>
<rect x="404.0" y="405" width="266.4" height="1" fill="#ff2b00"/>
<rect x="404.0" y="406" width="266.4" height="1" fill="#ff2b00"/>
<rect x="404.0" y="407" width="266.4" height="1" fill="#ff2b00"/>
<rect x="404.0" y="408" width="266.4" height="1" fill="#ff2b00"/>
<rect x="404.0" y="409" width="266.4" height="1" fill="#ff2b00"/>
<rect x="404.0" y="410" width="266.4" height="1" fill="#ff2b00"/>
<rect x="404.0" y="411" width="266.4" height="1" fill="#ff2b00"/>
<rect x="404.0" y="412" width="266.4" height="1" fill="#ff2b00"/>
<rect x="404.0" y="413" width="266.4" height="1" fill="#ff2b00"/>
<rect x="404.0" y="414" width="266.4" height="1" fill="#ff2b00"/>
<rect x="404.0" y="415" width="266.4" height="1" fill="#ff2b00"/>
<rect x="404.0" y="416" width="266.4" height="1" fill="#ff2b00"/>
<rect x="404.0" y="417" width="266.4" height="1" fill="#ff2b00"/>
<rect x="404.0" y="418" width="266.4" height="1" fill="#ff2b00"/>
<rect x="404.0" y="419" width="266.4" height="1" fill="#ff2b00"/>
<rect x="404.0" y="420" width="266.4" height="1" fill="#ff2b00"/>
<rect x="404.0" y="421" width="266.4" height="1" fill="#ff2b00"/>
<rect x="404.0" y="422" width="266.4" height="1" fill="#ff2b00"/>
<rect x="404.0" y="423" width="266.4" height="1" fill="#ff2b00"/>
<rect x="404.0" y="424" width="266.4" height="1" fill="#ff2b00"/>
<rect x="404.0" y="425" width="266.4" height="1" fill="#ff2b00"/>
<rect x="404.0" y="426" width="266.4" height="1" fill="#ff2b00"/>
<rect x="404.0" y="427" width="266.4" height="1" fill="#ff2b00"/>
<rect x="404.0" y="428" width="266.4" height="1" fill="#ff2b00"/>
<rect x="404.0" y="429" width="266.4" height="1" fill="#ff2b00"/>
<rect x="404.0" y="430" width="266.4" height="1" fill="#ff2b00"/>
<rect x="404.0" y="431" width="266.4" height="1" fill="#ff2b00"/>
<rect x="404.0" y="432" width="266.4" height="1" fill="url(#h49)"/>
<rect x="404.0" y="433" width="266.4" height="1" fill="url(#h50)"/>
<rect x="404.0" y="434" width="266.4" height="1" fill="url(#h51)"/>
<rect x="404.0" y="435" width="266.4" height="1" fill="url(#h52)"/>
<rect x="404.0" y="436" width="266.4" height="1" fill="url(#h53)"/>
<rect x="404.0" y="437" width="266.4" height="1" fill="url(#h54)"/>
<rect x="404.0" y="438" width="266.4" height="1" fill="url(#h55)"/>
<rect x="404.0" y="439" width="266.4" height="1" fill="url(#h56)"/>
<rect x="404.0" y="440" width="266.4" height="1" fill="url(#h57)"/>
<rect x="404.0" y="441" width="266.4" height="1" fill="url(#h58)"/>
<rect x="404.0" y="442" width="266.4" height="1" fill="url(#h59)"/>
<rect x="404.0" y="443" width="266.4" height="1" fill="url(#h60)"/>
<rect x="404.0" y="444" width="266.4" height="1" fill="url(#h61)"/>
<rect x="404.0" y="445" width="266.4" height="1" fill="url(#h62)"/>
<rect x="404.0" y="446" width="266.4" height="1" fill="url(#h63)"/>
<rect x="404.0" y="447" width="266.4" height="1" fill="url(#h64)"/>
<rect x="404.0" y="448" width="266.4" height="1" fill="url(#h65)"/>
<rect x="404.0" y="449" width="266.4" height="1" fill="url(#h66)"/>
<rect x="404.0" y="450" width="266.4" height="1" fill="url(#h67)"/>
<rect x="404.0" y="451" width="266.4" height="1" fill="url(#h68)"/>
<rect x="404.0" y="452" width="266.4" height="1" fill="url(#h69)"/>
<rect x="404.0" y="453" width="266.4" height="1" fill="url(#h70)"/>
<rect x="404.0" y="454" width="266.4" height="1" fill="url(#h71)"/>
<rect x="404.0" y="455" width="266.4" height="1" fill="url(#h72)"/>
<rect x="404.0" y="456" width="266.4" height="1" fill="url(#h73)"/>
<rect x="404.0" y="457" width="266.4" height="1" fill="url(#h74)"/>
<rect x="404.0" y="458" width="266.4" height="1" fill="url(#h75)"/>
<rect x="404.0" y="459" width="266.4" height="1" fill="url(#h76)"/>
<rect x="404.0" y="460" width="266.4" height="1" fill="url(#h77)"/>
<rect x="404.0" y="461" width="266.4" height="1" fill="url(#h78)"/>
<rect x="404.0" y="462" width="266.4" height="1" fill="url(#h79)"/>
<rect x="404.0" y="463" width="266.4" height="1" fill="url(#h80)"/>
<rect x="404.0" y="464" width="266.4" height="1" fill="url(#h81)"/>
<rect x="404.0" y="465" width="266.4" height="1" fill="url(#h82)"/>
<rect x="404.0" y="466" width="266.4" height="1" fill="url(#h83)"/>
<rect x="404.0" y="467" width="266.4" height="1" fill="url(#h84)"/>
<rect x="404.0" y="468" width="266.4" height="1" fill="url(#h85)"/>
<rect x="404.0" y="469" width="266.4" height="1" fill="url(#h86)"/>
<rect x="404.0" y="470" width="266.4" height="1" fill="url(#h87)"/>
<rect x="404.0" y="471" width="266.4" height="1" fill="url(#h88)"/>
<rect x="404.0" y="472" width="266.4" height="1" fill="url(#h89)"/>
<rect x="404.0" y="473" width="266.4" height="1" fill="url(#h90)"/>
<rect x="404.0" y="474" width="266.4" height="1" fill="url(#h91)"/>
<rect x="404.0" y="475" width="266.4" height="1" fill="url(#h92)"/>
<rect x="404.0" y="476" width="266.4" height="1" fill="url(#h93)"/>
<rect x="404.0" y="477" width="266.4" height="1" fill="url(#h94)"/>
<rect x="404.0" y="478" width="266.4" height="1" fill="url(#h95)"/>
<rect x="404.0" y="479" width="266.4" height="1" fill="url(#h96)"/>
<rect x="404.0" y="480" width="266.4" height="1" fill="url(#h97)"/>
<rect x="404.0" y="481" width="266.4" height="1" fill="url(#h98)"/>
<rect x="404.0" y="482" width="266.4" height="1" fill="url(#h99)"/>
<rect x="404.0" y="483" width="266.4" height="1" fill="url(#h100)"/>
<rect x="404.0" y="484" width="266.4" height="1" fill="url(#h101)"/>
<rect x="404.0" y="485" width="266.4" height="1" fill="url(#h102)"/>
<rect x="404.0" y="486" width="266.4" height="1" fill="url(#h103)"/>
<rect x="404.0" y="487" width="266.4" height="1" fill="url(#h104)"/>
<rect x="404.0" y="488" width="266.4" height="1" fill="url(#h105)"/>
<rect x="404.0" y="489" width="266.4" height="1" fill="url(#h106)"/>
<rect x="404.0" y="490" width="266.4" height="1" fill="url(#h107)"/>
<rect x="404.0" y="491" width="266.4" height="1" fill="url(#h108)"/>
<rect x="404.0" y="492" width="266.4" height="1" fill="url(#h109)"/>
<rect x="404.0" y="493" width="266.4" height="1" fill="url(#h110)"/>
<rect x="404.0" y="494" width="266.4" height="1" fill="url(#h111)"/>
<rect x="404.0" y="495" width="266.4" height="1" fill="url(#h112)"/>
<rect x="404.0" y="496" width="266.4" height="1" fill="url(#h113)"/>
<rect x="404.0" y="497" width="266.4" height="1" fill="url(#h114)"/>
<rect x="404.0" y="498" width="266.4" height="1" fill="url(#h115)"/>
<rect x="404.0" y="499" width="266.4" height="1" fill="url(#h116)"/>
<rect x="404.0" y="500" width="266.4" height="1" fill="url(#h117)"/>
<rect x="404.0" y="501" width="266.4" height="1" fill="url(#h118)"/>
<rect x="404.0" y="502" width="266.4" height="1" fill="url(#h119)"/>
<rect x="404.0" y="503" width="266.4" height="1" fill="url(#h120)"/>
<rect x="404.0" y="504" width="266.4" height="1" fill="url(#h121)"/>
<rect x="404.0" y="505" width="266.4" height="1" fill="url(#h122)"/>
<rect x="404.0" y="506" width="266.4" height="1" fill="url(#h123)"/>
<rect x="404.0" y="507" width="266.4" height="1" fill="url(#h124)"/>
<rect x="404.0" y="508" width="266.4" height="1" fill="#0000ff"/>
<rect x="404.0" y="509" width="266.4" height="1" fill="#0000ff"/>
<rect x="404.0" y="510" width="266.4" height="1" fill="#0000ff"/>
<rect x="404.0" y="511" width="266.4" height="1" fill="#0000ff"/>
<rect x="404.0" y="512" width="266.4" height="1" fill="#0000ff"/>
<rect x="404.0" y="513" width="266.4" height="1" fill="#0000ff"/>
<rect x="404.0" y="514" width="266.4" height="1" fill="#0000ff"/>
<rect x="404.0" y="515" width="266.4" height="1" fill="#0000ff"/>
<rect x="404.0" y="516" width="266.4" height="1" fill="#0000ff"/>
<rect x="404.0" y="517" width="266.4" height="1" fill="#0000ff"/>
<rect x="404.0" y="518" width="266.4" height="1" fill="#0000ff"/>
<rect x="404.0" y="519" width="266.4" height="1" fill="#0000ff"/>
<rect x="404.0" y="520" width="266.4" height="1" fill="#0000ff"/>
<rect x="404.0" y="521" width="266.4" height="1" fill="#0000ff"/>
<rect x="404.0" y="522" width="266.4" height="1" fill="#0000ff"/>
<rect x="404.0" y="523" width="266.4" height="1" fill="#0000ff"/>
<rect x="404.0" y="524" width="266.4" height="1" fill="url(#h141)"/>
<rect x="404.0" y="525" width="266.4" height="1" fill="url(#h142)"/>
<rect x="404.0" y="526" width="266.4" height="1" fill="url(#h143)"/>
<rect x="404.0" y="527" width="266.4" height="1" fill="url(#h144)"/>
<rect x="404.0" y="528" width="266.4" height="1" fill="url(#h145)"/>
<rect x="404.0" y="529" width="266.4" height="1" fill="url(#h146)"/>
<rect x="404.0" y="530" width="266.4" height="1" fill="url(#h147)"/>
<rect x="404.0" y="531" width="266.4" height="1" fill="url(#h148)"/>
<rect x="404.0" y="532" width="266.4" height="1" fill="url(#h149)"/>
<rect x="404.0" y="533" width="266.4" height="1" fill="url(#h150)"/>
<rect x="404.0" y="534" width="266.4" height="1" fill="url(#h151)"/>
<rect x="404.0" y="535" width="266.4" height="1" fill="url(#h152)"/>
<rect x="404.0" y="536" width="266.4" height="1" fill="url(#h153)"/>
<rect x="404.0" y="537" width="266.4" height="1" fill="url(#h154)"/>
<rect x="404.0" y="538" width="266.4" height="1" fill="url(#h155)"/>
<rect x="404.0" y="539" width="266.4" height="1" fill="url(#h156)"/>
<rect x="404.0" y="540" width="266.4" height="1" fill="url(#h157)"/>
<rect x="404.0" y="541" width="266.4" height="1" fill="url(#h158)"/>
<rect x="404.0" y="542" width="266.4" height="1" fill="url(#h159)"/>
<rect x="404.0" y="543" width="266.4" height="1" fill="url(#h160)"/>
<rect x="404.0" y="544" width="266.4" height="1" fill="url(#h161)"/>
<rect x="404.0" y="545" width="266.4" height="1" fill="url(#h162)"/>
<rect x="404.0" y="546" width="266.4" height="1" fill="url(#h163)"/>
<rect x="404.0" y="547" width="266.4" height="1" fill="url(#h164)"/>
<rect x="404.0" y="548" width="266.4" height="1" fill="url(#h165)"/>
<rect x="404.0" y="549" width="266.4" height="1" fill="url(#h166)"/>
<rect x="404.0" y="550" width="266.4" height="1" fill="url(#h167)"/>
<rect x="404.0" y="551" width="266.4" height="1" fill="url(#h168)"/>
<rect x="404.0" y="552" width="266.4" height="1" fill="url(#h169)"/>
<rect x="404.0" y="553" width="266.4" height="1" fill="url(#h170)"/>
<rect x="404.0" y="554" width="266.4" height="1" fill="url(#h171)"/>
<rect x="404.0" y="555" width="266.4" height="1" fill="url(#h172)"/>
<rect x="404.0" y="556" width="266.4" height="1" fill="url(#h173)"/>
<rect x="404.0" y="557" width="266.4" height="1" fill="url(#h174)"/>
<rect x="404.0" y="558" width="266.4" height="1" fill="url(#h175)"/>
<rect x="404.0" y="559" width="266.4" height="1" fill="url(#h176)"/>
<rect x="404.0" y="560" width="266.4" height="1" fill="url(#h177)"/>
<rect x="404.0" y="561" width="266.4" height="1" fill="url(#h178)"/>
<rect x="404.0" y="562" width="266.4" height="1" fill="url(#h179)"/>
<rect x="404.0" y="563" width="266.4" height="1" fill="url(#h180)"/>
<rect x="404.0" y="564" width="266.4" height="1" fill="url(#h181)"/>
<rect x="404.0" y="565" width="266.4" height="1" fill="url(#h182)"/>
<rect x="404.0" y="566" width="266.4" height="1" fill="url(#h183)"/>
<rect x="404.0" y="567" width="266.4" height="1" fill="url(#h184)"/>
<rect x="404.0" y="568" width="266.4" height="1" fill="url(#h185)"/>
<rect x="404.0" y="569" width="266.4" height="1" fill="url(#h186)"/>
<rect x="404.0" y="570" width="266.4" height="1" fill="url(#h187)"/>
<rect x="404.0" y="571" width="266.4" height="1" fill="url(#h188)"/>
<rect x="404.0" y="572" width="266.4" height="1" fill="url(#h189)"/>
<rect x="404.0" y="573" width="266.4" height="1" fill="url(#h190)"/>
<rect x="404.0" y="574" width="266.4" height="1" fill="url(#h191)"/>
<rect x="404.0" y="575" width="266.4" height="1" fill="url(#h192)"/>
<rect x="404.0" y="576" width="266.4" height="1" fill="url(#h193)"/>
<rect x="404.0" y="577" width="266.4" height="1" fill="url(#h194)"/>
<rect x="404.0" y="578" width="266.4" height="1" fill="url(#h195)"/>
<rect x="404.0" y="579" width="266.4" height="1" fill="url(#h196)"/>
<rect x="404.0" y="580" width="266.4" height="1" fill="url(#h197)"/>
<rect x="404.0" y="581" width="266.4" height="1" fill="url(#h198)"/>
<rect x="404.0" y="582" width="266.4" height="1" fill="url(#h199)"/>
<rect x="404.0" y="583" width="266.4" height="1" fill="url(#h200)"/>
<rect x="404.0" y="584" width="266.4" height="1" fill="url(#h201)"/>
<rect x="404.0" y="585" width="266.4" height="1" fill="url(#h202)"/>
<rect x="404.0" y="586" width="266.4" height="1" fill="url(#h203)"/>
<rect x="404.0" y="587" width="266.4" height="1" fill="url(#h204)"/>
<rect x="404.0" y="588" width="266.4" height="1" fill="url(#h205)"/>
<rect x="404.0" y="589" width="266.4" height="1" fill="url(#h206)"/>
<rect x="404.0" y="590" width="266.4" height="1" fill="url(#h207)"/>
<rect x="404.0" y="591" width="266.4" height="1" fill="url(#h208)"/>
<rect x="404.0" y="592" width="266.4" height="1" fill="url(#h209)"/>
<rect x="404.0" y="593" width="266.4" height="1" fill="url(#h210)"/>
<rect x="404.0" y="594" width="266.4" height="1" fill="url(#h211)"/>
<rect x="404.0" y="595" width="266.4" height="1" fill="url(#h212)"/>
<rect x="404.0" y="596" width="266.4" height="1" fill="url(#h213)"/>
<rect x="404.0" y="597" width="266.4" height="1" fill="url(#h214)"/>
<rect x="404.0" y="598" width="266.4" height="1" fill="url(#h215)"/>
<rect x="404.0" y="599" width="266.4" height="1" fill="url(#h216)"/>
<rect x="404.0" y="600" width="266.4" height="1" fill="url(#h217)"/>
<rect x="404.0" y="601" width="266.4" height="1" fill="#ff2b00"/>
<rect x="404.0" y="602" width="266.4" height="1" fill="#ff2b00"/>
<rect x="404.0" y="603" width="266.4" height="1" fill="#ff2b00"/>
<rect x="404.0" y="604" width="266.4" height="1" fill="#ff2b00"/>
<rect x="404.0" y="605" width="266.4" height="1" fill="#ff2b00"/>
<rect x="404.0" y="606" width="266.4" height="1" fill="#ff2b00"/>
<rect x="404.0" y="607" width="266.4" height="1" fill="#ff2b00"/>
<rect x="404.0" y="608" width="266.4" height="1" fill="#ff2b00"/>
<rect x="404.0" y="609" width="266.4" height="1" fill="#ff2b00"/>
<rect x="404.0" y="610" width="266.4" height="1" fill="#ff2b00"/>
<rect x="404.0" y="611" width="266.4" height="1" fill="#ff2b00"/>
<rect x="404.0" y="612" width="266.4" height="1" fill="#ff2b00"/>
<rect x="404.0" y="613" width="266.4" height="1" fill="#ff2b00"/>
<rect x="404.0" y="614" width="266.4" height="1" fill="#ff2b00"/>
<rect x="404.0" y="615" width="266.4" height="1" fill="#ff2b00"/>
<rect x="404.0" y="616" width="266.4" height="1" fill="#ff2b00"/>
<rect x="404.0" y="617" width="266.4" height="1" fill="#ff2b00"/>
<rect x="404.0" y="618" width="266.4" height="1" fill="#ff2b00"/>
<rect x="404.0" y="619" width="266.4" height="1" fill="#ff2b00"/>
<rect x="404.0" y="620" width="266.4" height="1" fill="#ff2b00"/>
<rect x="404.0" y="621" width="266.4" height="1" fill="#ff2b00"/>
<rect x="404.0" y="622" width="266.4" height="1" fill="#ff2b00"/>
<rect x="404.0" y="623" width="266.4" height="1" fill="#ff2b00"/>
<rect x="404.0" y="624" width="266.4" height="1" fill="#ff2b00"/>
<rect x="404.0" y="625" width="266.4" height="1" fill="#ff2b00"/>
<rect x="404.0" y="626" width="266.4" height="1" fill="#ff2b00"/>
<rect x="404.0" y="627" width="266.4" height="1" fill="#ff2b00"/>
<rect x="404.0" y="628" width="266.4" height="1" fill="#ff2b00"/>
<rect x="404.0" y="629" width="266.4" height="1" fill="#ff2b00"/>
<rect x="404.0" y="630" width="266.4" height="1" fill="#ff2b00"/>
<rect x="404.0" y="631" width="266.4" height="1" fill="#ff2b00"/>
<rect x="404.0" y="632" width="266.4" height="1" fill="#ff2b00"/>
<rect x="404.0" y="633" width="266.4" height="1" fill="#ff2b00"/>
<rect x="404.0" y="634" width="266.4" height="1" fill="#ff2b00"/>
<rect x="404.0" y="635" width="266.4" height="1" fill="#ff2b00"/>
<rect x="404.0" y="636" width="266.4" height="1" fill="#ff2b00"/>
<rect x="404.0" y="637" width="266.4" height="1" fill="#ff2b00"/>
<rect x="404.0" y="638" width="266.4" height="1" fill="#ff2b00"/>
<rect x="404.0" y="639" width="266.4" height="1" fill="#ff2b00"/>
<rect x="404.0" y="640" width="266.4" height="1" fill="#ff2b00"/>
<rect x="404.0" y="641" width="266.4" height="1" fill="#ff2b00"/>
<rect x="404.0" y="642" width="266.4" height="1" fill="#ff2b00"/>
<rect x="404.0" y="643" width="266.4" height="1" fill="#ff2b00"/>
<rect x="404.0" y="644" width="266.4" height="1" fill="#ff2b00"/>
<rect x="404.0" y="645" width="266.4" height="1" fill="#ff2b00"/>
<rect x="404.0" y="646" width="266.4" height="1" fill="#ff2b00"/>
<rect x="404.0" y="647" width="266.4" height="1" fill="#ff2b00"/>
<rect x="404.0" y="648" width="266.4" height="1" fill="#ff2b00"/>
<rect x="404.0" y="649" width="266.4" height="1" fill="#ff2b00"/>
</g>
<line x1="404.0" x2="670.4" y1="482.5" y2="482.5" stroke="#fff" stroke-width="1" stroke-dasharray="3.7,2.2"/>
<line x1="404.0" x2="670.4" y1="549.5" y2="549.5" stroke="#fff" stroke-width="1" stroke-dasharray="3.7,2.2"/>
<line x1="536.5" x2="536.5" y1="383.0" y2="649.6" stroke="#fff" stroke-width="1" stroke-dasharray="3.7,2.2"/>
<path d="M404.0,382.8H670.6V649.6" fill="none" stroke="#555" stroke-width="0.7" stroke-opacity="0.7"/>
<path d="M404.0,383.0V649.6H670.4" fill="none" stroke="#5a5a5a" stroke-width="1"/>
<path d="M404.0,649.6v4.5M404.0,649.6h-4.5M410.7,649.6v1.8M404.0,642.9h-1.8M417.3,649.6v1.8M404.0,636.3h-1.8M424.0,649.6v1.8M404.0,629.6h-1.8M430.6,649.6v1.8M404.0,622.9h-1.8M437.3,649.6v1.8M404.0,616.3h-1.8M444.0,649.6v1.8M404.0,609.6h-1.8M450.6,649.6v1.8M404.0,602.9h-1.8M457.3,649.6v1.8M404.0,596.3h-1.8M463.9,649.6v1.8M404.0,589.6h-1.8M470.6,649.6v4.5M404.0,583.0h-4.5M477.3,649.6v1.8M404.0,576.3h-1.8M483.9,649.6v1.8M404.0,569.6h-1.8M490.6,649.6v1.8M404.0,563.0h-1.8M497.2,649.6v1.8M404.0,556.3h-1.8M503.9,649.6v1.8M404.0,549.6h-1.8M510.6,649.6v1.8M404.0,543.0h-1.8M517.2,649.6v1.8M404.0,536.3h-1.8M523.9,649.6v1.8M404.0,529.6h-1.8M530.5,649.6v1.8M404.0,523.0h-1.8M537.2,649.6v4.5M404.0,516.3h-4.5M543.9,649.6v1.8M404.0,509.6h-1.8M550.5,649.6v1.8M404.0,503.0h-1.8M557.2,649.6v1.8M404.0,496.3h-1.8M563.8,649.6v1.8M404.0,489.6h-1.8M570.5,649.6v1.8M404.0,483.0h-1.8M577.2,649.6v1.8M404.0,476.3h-1.8M583.8,649.6v1.8M404.0,469.6h-1.8M590.5,649.6v1.8M404.0,463.0h-1.8M597.1,649.6v1.8M404.0,456.3h-1.8M603.8,649.6v4.5M404.0,449.6h-4.5M610.5,649.6v1.8M404.0,443.0h-1.8M617.1,649.6v1.8M404.0,436.3h-1.8M623.8,649.6v1.8M404.0,429.7h-1.8M630.4,649.6v1.8M404.0,423.0h-1.8M637.1,649.6v1.8M404.0,416.3h-1.8M643.8,649.6v1.8M404.0,409.7h-1.8M650.4,649.6v1.8M404.0,403.0h-1.8M657.1,649.6v1.8M404.0,396.3h-1.8M663.7,649.6v1.8M404.0,389.7h-1.8M670.4,649.6v4.5M404.0,383.0h-4.5" stroke="#5a5a5a" stroke-width="0.8" fill="none"/>
<text x="404.0" y="665.8" font-size="13.4" text-anchor="middle" fill="#222" textLength="28.0" lengthAdjust="spacingAndGlyphs">0.00</text>
<text x="398.5" y="654.4" font-size="13.4" text-anchor="end" fill="#222" textLength="28.0" lengthAdjust="spacingAndGlyphs">0.00</text>
<text x="470.6" y="665.8" font-size="13.4" text-anchor="middle" fill="#222" textLength="28.0" lengthAdjust="spacingAndGlyphs">0.10</text>
<text x="398.5" y="587.8" font-size="13.4" text-anchor="end" fill="#222" textLength="28.0" lengthAdjust="spacingAndGlyphs">0.10</text>
<text x="537.2" y="665.8" font-size="13.4" text-anchor="middle" fill="#222" textLength="28.0" lengthAdjust="spacingAndGlyphs">0.20</text>
<text x="398.5" y="521.1" font-size="13.4" text-anchor="end" fill="#222" textLength="28.0" lengthAdjust="spacingAndGlyphs">0.20</text>
<text x="603.8" y="665.8" font-size="13.4" text-anchor="middle" fill="#222" textLength="28.0" lengthAdjust="spacingAndGlyphs">0.30</text>
<text x="398.5" y="454.4" font-size="13.4" text-anchor="end" fill="#222" textLength="28.0" lengthAdjust="spacingAndGlyphs">0.30</text>
<text x="670.4" y="665.8" font-size="13.4" text-anchor="middle" fill="#222" textLength="28.0" lengthAdjust="spacingAndGlyphs">0.40</text>
<text x="398.5" y="387.8" font-size="13.4" text-anchor="end" fill="#222" textLength="28.0" lengthAdjust="spacingAndGlyphs">0.40</text>
<text x="368.0" y="360.4" font-size="12.5" text-anchor="start" fill="#222" textLength="40.5" lengthAdjust="spacingAndGlyphs">y (cm)</text>
<text x="536.8" y="679.2" font-size="13" text-anchor="middle" fill="#222" textLength="81.5" lengthAdjust="spacingAndGlyphs">length (cm)</text>
<rect x="415" y="388.8" width="40.4" height="83" fill="#fff"/>
<defs><linearGradient id="cb" x1="0" y1="0" x2="0" y2="1"><stop offset="0" stop-color="#f00"/><stop offset=".25" stop-color="#ff0"/><stop offset=".5" stop-color="#0f0"/><stop offset=".75" stop-color="#0ff"/><stop offset="1" stop-color="#00f"/></linearGradient></defs>
<rect x="418.1" y="394.9" width="12.3" height="70.8" fill="url(#cb)"/>
<path d="M430.4,394.9h2.3" stroke="#444" stroke-width="0.5"/>
<text x="435.0" y="396.6" font-size="4.8" text-anchor="start" fill="#444" textLength="17.6" lengthAdjust="spacingAndGlyphs">4.7e-06</text>
<path d="M430.4,412.6h2.3" stroke="#444" stroke-width="0.5"/>
<text x="435.0" y="414.3" font-size="4.8" text-anchor="start" fill="#444" textLength="17.6" lengthAdjust="spacingAndGlyphs">3.5e-06</text>
<path d="M430.4,430.3h2.3" stroke="#444" stroke-width="0.5"/>
<text x="435.0" y="432.0" font-size="4.8" text-anchor="start" fill="#444" textLength="17.6" lengthAdjust="spacingAndGlyphs">2.3e-06</text>
<path d="M430.4,448.0h2.3" stroke="#444" stroke-width="0.5"/>
<text x="435.0" y="449.7" font-size="4.8" text-anchor="start" fill="#444" textLength="17.6" lengthAdjust="spacingAndGlyphs">1.2e-06</text>
<path d="M430.4,465.7h2.3" stroke="#444" stroke-width="0.5"/>
<text x="435.0" y="467.4" font-size="4.8" text-anchor="start" fill="#444" textLength="7.0" lengthAdjust="spacingAndGlyphs">0.0</text>
<text x="462.8" y="401.9" font-size="12.5" text-anchor="start" fill="#fff" textLength="32.0" lengthAdjust="spacingAndGlyphs">mol/L</text>
<text x="576.5" y="424.8" font-size="14" text-anchor="start" fill="#fff" textLength="41.5" lengthAdjust="spacingAndGlyphs">matrix</text>
<text x="576.5" y="524.5" font-size="14" text-anchor="start" fill="#fff" textLength="54.0" lengthAdjust="spacingAndGlyphs">fracture</text>
<text x="576.5" y="614.2" font-size="14" text-anchor="start" fill="#fff" textLength="41.5" lengthAdjust="spacingAndGlyphs">matrix</text>
<text x="417.9" y="634.4" font-size="20.5" text-anchor="start" fill="#000" textLength="26.9" lengthAdjust="spacingAndGlyphs" font-weight="bold">(d)</text>
<text x="446.2" y="633.2" font-size="13.5" text-anchor="start" fill="#000" textLength="71.0" lengthAdjust="spacingAndGlyphs">2D Calcium</text></svg></body></html>
